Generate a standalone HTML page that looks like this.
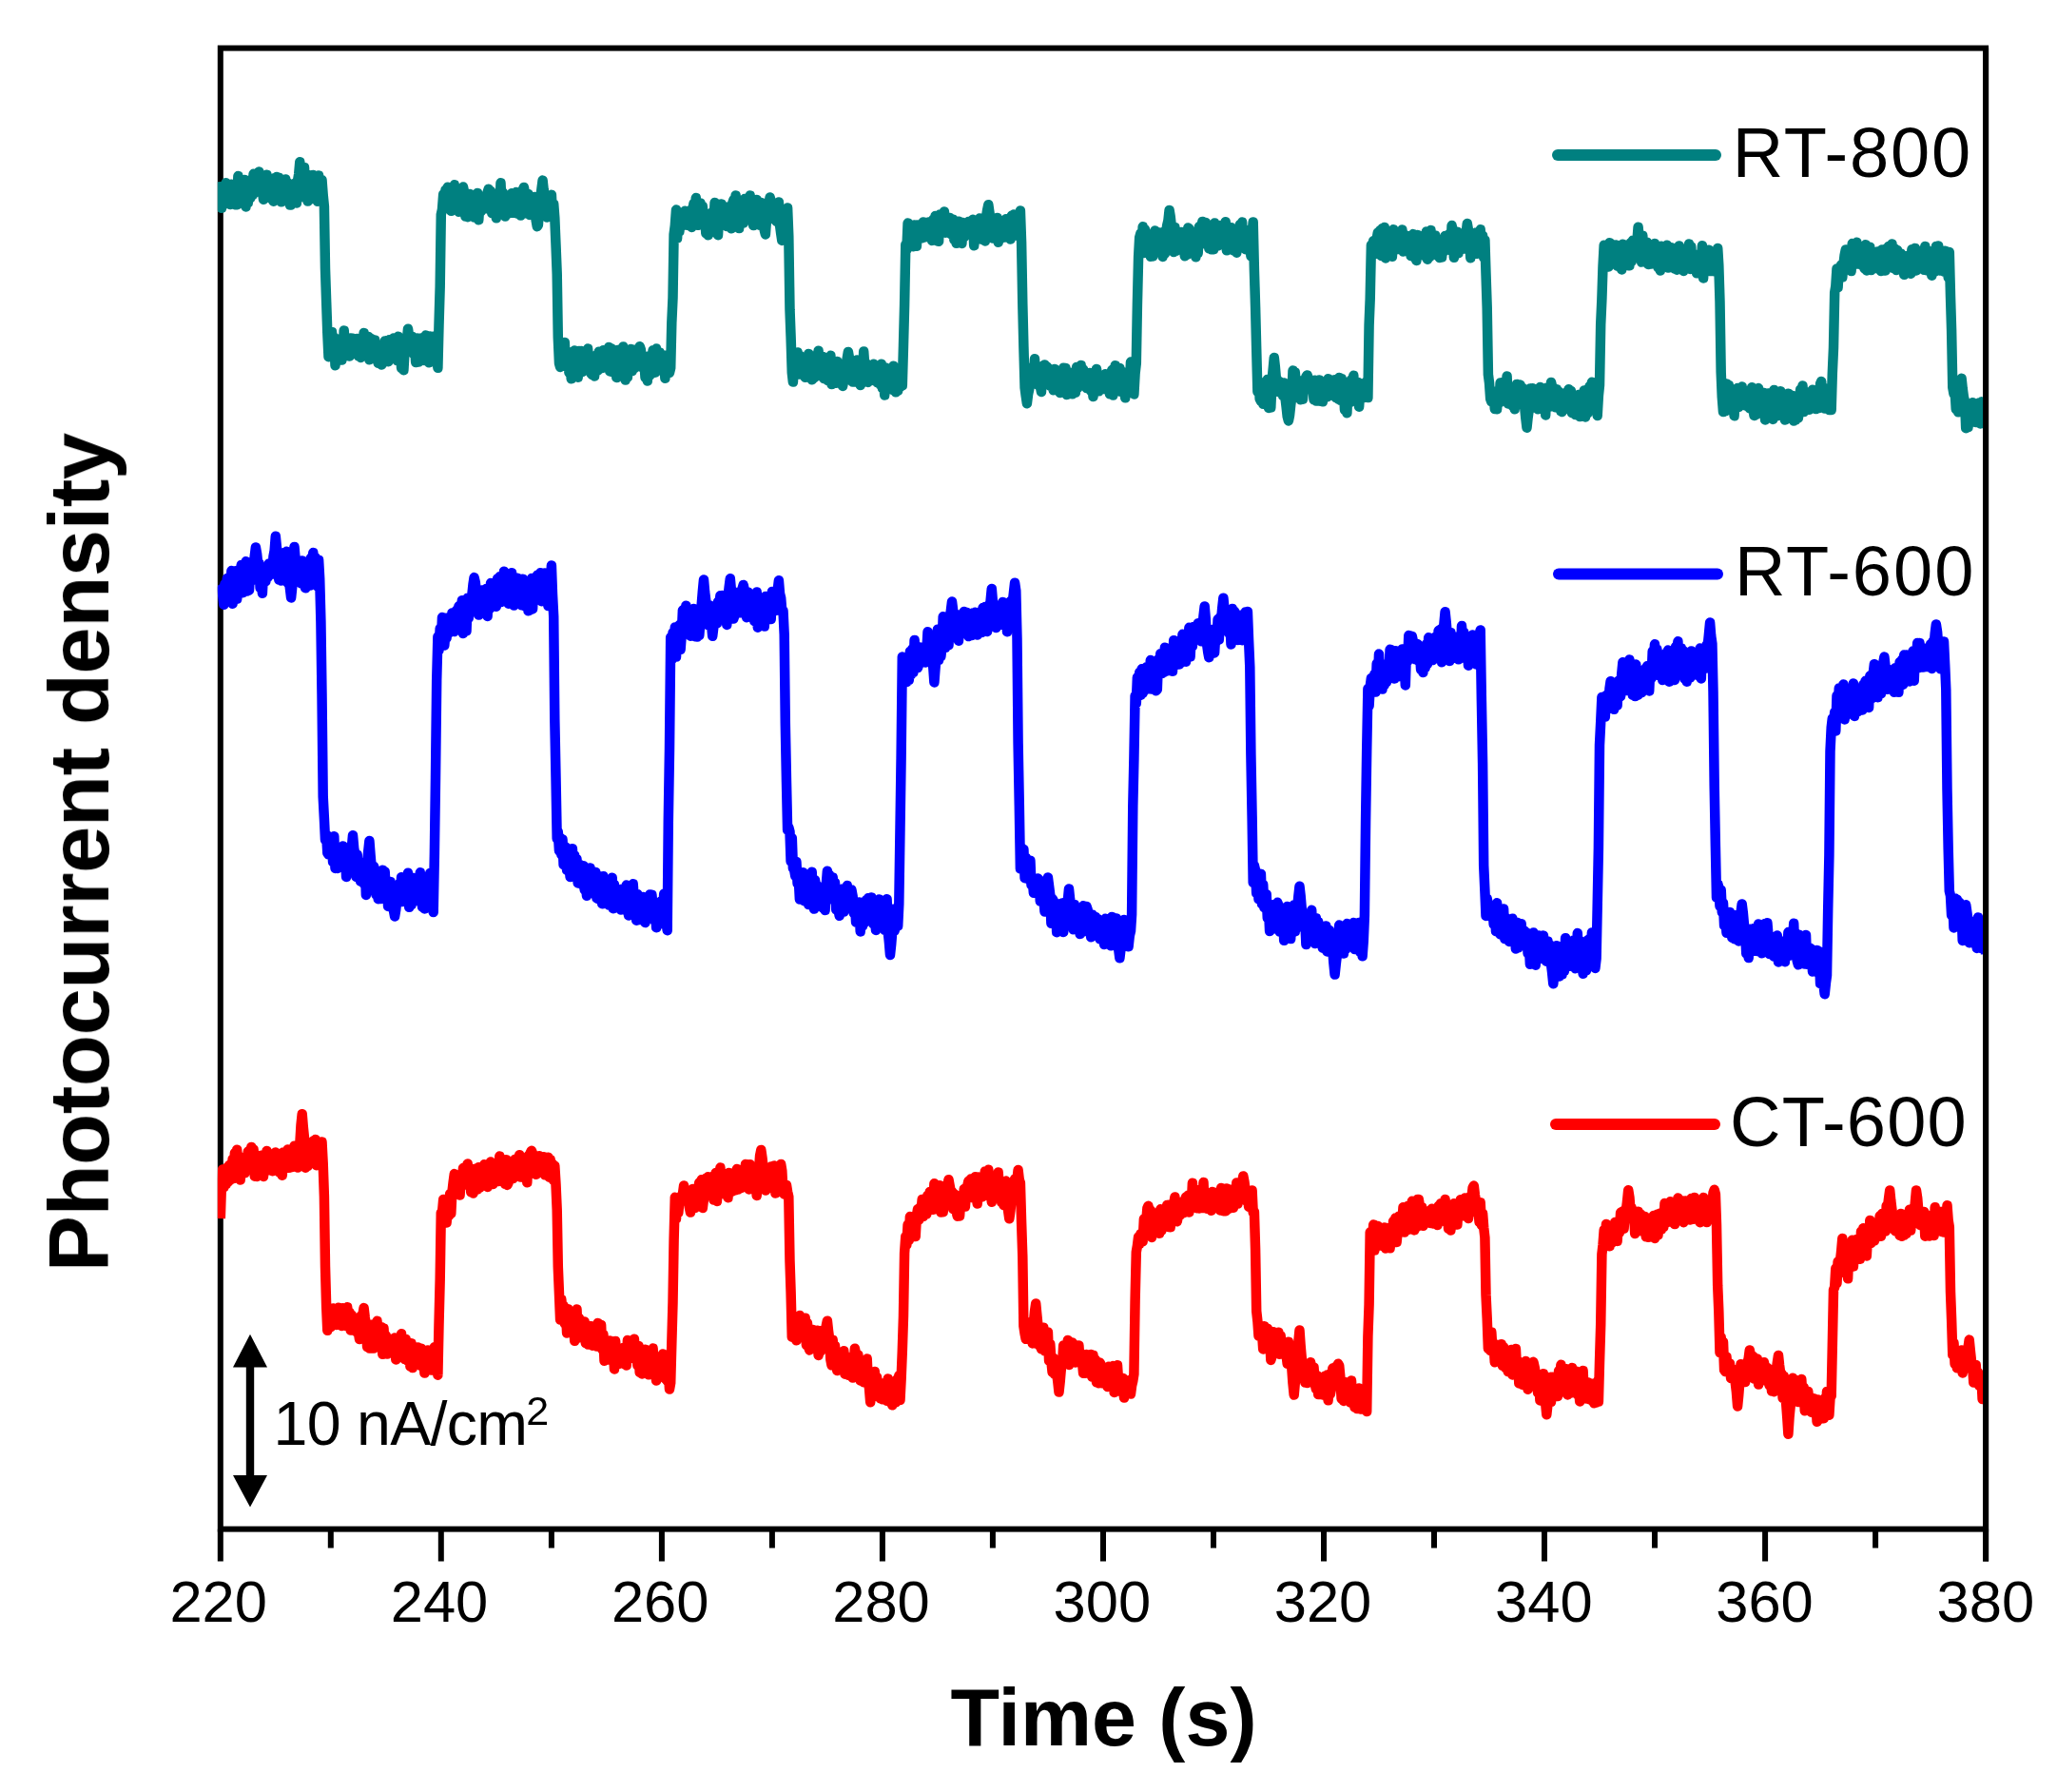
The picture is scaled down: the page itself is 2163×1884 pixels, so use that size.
<!DOCTYPE html>
<html lang="en"><head><meta charset="utf-8"><title>Photocurrent density vs Time</title>
<style>
html,body{margin:0;padding:0;background:#fff;}
body{width:2163px;height:1884px;overflow:hidden;}
svg{display:block;}
text{font-family:"Liberation Sans",Arial,Helvetica,sans-serif;fill:#000;}
.tr{fill:none;stroke-width:10.5;stroke-linejoin:round;stroke-linecap:butt;}
</style></head><body>
<svg width="2163" height="1884" viewBox="0 0 2163 1884">
<defs><filter id="soft" x="0" y="0" width="2163" height="1884" filterUnits="userSpaceOnUse"><feGaussianBlur stdDeviation="0.7"/></filter></defs>
<rect width="2163" height="1884" fill="#fff"/>
<g filter="url(#soft)">
<g stroke="#000" stroke-width="6" fill="none" stroke-linecap="butt">
<rect x="231.8" y="50.6" width="1856.3" height="1557.0"/>
<line x1="231.8" y1="1607.6" x2="231.8" y2="1641.5"/><line x1="347.8" y1="1607.6" x2="347.8" y2="1627.5"/><line x1="463.8" y1="1607.6" x2="463.8" y2="1641.5"/><line x1="579.9" y1="1607.6" x2="579.9" y2="1627.5"/><line x1="695.9" y1="1607.6" x2="695.9" y2="1641.5"/><line x1="811.9" y1="1607.6" x2="811.9" y2="1627.5"/><line x1="927.9" y1="1607.6" x2="927.9" y2="1641.5"/><line x1="1043.9" y1="1607.6" x2="1043.9" y2="1627.5"/><line x1="1160.0" y1="1607.6" x2="1160.0" y2="1641.5"/><line x1="1276.0" y1="1607.6" x2="1276.0" y2="1627.5"/><line x1="1392.0" y1="1607.6" x2="1392.0" y2="1641.5"/><line x1="1508.0" y1="1607.6" x2="1508.0" y2="1627.5"/><line x1="1624.0" y1="1607.6" x2="1624.0" y2="1641.5"/><line x1="1740.0" y1="1607.6" x2="1740.0" y2="1627.5"/><line x1="1856.1" y1="1607.6" x2="1856.1" y2="1641.5"/><line x1="1972.1" y1="1607.6" x2="1972.1" y2="1627.5"/><line x1="2088.1" y1="1607.6" x2="2088.1" y2="1641.5"/>
</g>
<clipPath id="cp"><rect x="228.8" y="50.6" width="1859.8" height="1557.0"/></clipPath>
<g clip-path="url(#cp)">
<path class="tr" stroke="#008080" d="M231.8,191.0 L233.0,218.8 L234.1,197.3 L235.3,197.1 L236.4,214.4 L237.6,192.2 L238.8,193.6 L239.9,210.3 L241.1,200.1 L242.2,215.0 L243.4,193.7 L244.6,212.1 L245.7,193.9 L246.9,215.2 L248.0,199.2 L249.2,215.3 L250.4,185.0 L251.5,203.0 L252.7,192.4 L253.8,212.9 L255.0,194.9 L256.2,209.0 L257.3,188.9 L258.5,217.4 L259.6,191.6 L260.8,213.2 L262.0,192.6 L263.1,208.3 L264.3,188.7 L265.4,205.2 L266.6,182.8 L267.8,202.7 L268.9,184.4 L270.1,197.8 L271.2,185.2 L272.4,180.6 L273.6,188.5 L274.7,191.3 L275.9,199.4 L277.0,209.7 L278.2,189.7 L279.4,206.0 L280.5,183.7 L281.7,206.4 L282.8,196.8 L284.0,208.1 L285.2,194.1 L286.3,190.6 L287.5,211.7 L288.6,187.2 L289.8,209.7 L291.0,186.0 L292.1,202.2 L293.3,186.7 L294.5,196.5 L295.6,212.3 L296.8,193.7 L297.9,206.8 L299.1,197.0 L300.3,188.4 L301.4,203.9 L302.6,192.1 L303.7,209.6 L304.9,215.5 L306.1,215.5 L307.2,212.0 L308.4,193.8 L309.5,208.1 L310.7,192.3 L311.9,213.4 L313.0,190.2 L314.2,183.0 L315.3,170.2 L316.5,181.6 L317.7,190.7 L318.8,207.1 L320.0,176.1 L321.1,200.2 L322.3,186.2 L323.5,211.6 L324.6,183.9 L325.8,206.0 L326.9,187.3 L328.1,202.1 L329.3,184.0 L330.4,209.3 L331.6,190.2 L332.7,191.1 L333.9,211.8 L335.1,184.6 L336.2,209.9 L337.4,189.8 L338.5,189.1 L339.7,204.8 L340.9,217.1 L342.0,282.6 L343.2,318.3 L344.3,349.8 L345.5,375.2 L346.7,359.3 L347.8,370.2 L349.0,349.1 L350.1,365.9 L351.3,354.8 L352.5,384.3 L353.6,356.4 L354.8,373.0 L355.9,358.7 L357.1,369.6 L358.3,357.3 L359.4,378.6 L360.6,374.0 L361.7,347.4 L362.9,369.1 L364.1,360.4 L365.2,370.9 L366.4,358.0 L367.5,374.5 L368.7,355.4 L369.9,370.0 L371.0,355.7 L372.2,364.9 L373.3,357.4 L374.5,371.9 L375.7,356.0 L376.8,374.2 L378.0,359.4 L379.1,375.9 L380.3,357.6 L381.5,371.2 L382.6,350.0 L383.8,365.4 L384.9,355.2 L386.1,367.1 L387.3,354.0 L388.4,378.3 L389.6,355.7 L390.7,372.9 L391.9,361.5 L393.1,376.9 L394.2,357.6 L395.4,374.9 L396.5,363.0 L397.7,381.8 L398.9,363.7 L400.0,365.5 L401.2,383.5 L402.3,366.6 L403.5,380.9 L404.7,358.5 L405.8,369.3 L407.0,358.0 L408.1,380.2 L409.3,357.3 L410.5,374.9 L411.6,361.2 L412.8,374.4 L413.9,355.5 L415.1,375.4 L416.3,361.9 L417.4,379.0 L418.6,353.8 L419.8,372.8 L420.9,364.9 L422.1,387.0 L423.2,363.7 L424.4,389.2 L425.6,368.2 L426.7,365.6 L427.9,357.2 L429.0,345.7 L430.2,353.9 L431.4,364.7 L432.5,368.9 L433.7,354.1 L434.8,372.1 L436.0,363.3 L437.2,381.0 L438.3,367.0 L439.5,355.6 L440.6,380.4 L441.8,379.1 L443.0,355.5 L444.1,375.2 L445.3,362.7 L446.4,379.1 L447.6,352.6 L448.8,372.7 L449.9,360.9 L451.1,381.3 L452.2,353.4 L453.4,374.0 L454.6,356.8 L455.7,372.1 L456.9,353.5 L458.0,379.7 L459.2,367.4 L460.4,386.8 L461.5,342.2 L462.7,301.1 L463.8,225.5 L465.0,220.0 L466.2,204.2 L467.3,216.6 L468.5,199.6 L469.6,218.0 L470.8,196.7 L472.0,215.3 L473.1,204.4 L474.3,221.8 L475.4,207.2 L476.6,217.0 L477.8,194.3 L478.9,214.5 L480.1,209.3 L481.2,205.3 L482.4,222.7 L483.6,202.9 L484.7,198.2 L485.9,221.6 L487.0,196.5 L488.2,202.4 L489.4,227.6 L490.5,205.4 L491.7,228.2 L492.8,218.9 L494.0,204.1 L495.2,216.7 L496.3,208.3 L497.5,214.2 L498.6,228.5 L499.8,213.9 L501.0,228.2 L502.1,202.9 L503.3,231.3 L504.4,212.9 L505.6,222.3 L506.8,208.1 L507.9,219.5 L509.1,217.9 L510.2,205.9 L511.4,219.3 L512.6,202.3 L513.7,198.7 L514.9,219.8 L516.0,201.0 L517.2,224.0 L518.4,208.5 L519.5,224.6 L520.7,207.4 L521.8,229.3 L523.0,214.6 L524.2,203.4 L525.3,223.4 L526.5,192.3 L527.6,217.8 L528.8,202.6 L530.0,210.7 L531.1,227.5 L532.3,218.5 L533.4,206.1 L534.6,224.5 L535.8,211.6 L536.9,219.3 L538.1,203.3 L539.2,223.8 L540.4,209.2 L541.6,219.8 L542.7,202.1 L543.9,224.6 L545.1,212.4 L546.2,207.1 L547.4,226.6 L548.5,211.6 L549.7,199.6 L550.9,196.9 L552.0,203.5 L553.2,207.7 L554.3,224.6 L555.5,204.1 L556.7,225.9 L557.8,213.0 L559.0,225.2 L560.1,207.8 L561.3,223.3 L562.5,207.0 L563.6,231.3 L564.8,238.2 L565.9,236.4 L567.1,217.0 L568.3,208.8 L569.4,199.0 L570.6,189.6 L571.7,199.7 L572.9,206.9 L574.1,212.5 L575.2,228.5 L576.4,211.3 L577.5,227.0 L578.7,210.4 L579.9,204.8 L581.0,228.0 L582.2,214.4 L583.3,228.9 L584.5,257.4 L585.7,287.6 L586.8,354.8 L588.0,381.8 L589.1,386.0 L590.3,368.0 L591.5,382.2 L592.6,380.6 L593.8,360.0 L594.9,385.1 L596.1,385.0 L597.3,375.2 L598.4,391.7 L599.6,376.1 L600.7,398.3 L601.9,370.0 L603.1,386.4 L604.2,368.4 L605.4,391.0 L606.5,372.8 L607.7,396.7 L608.9,369.1 L610.0,389.2 L611.2,369.1 L612.3,390.9 L613.5,376.3 L614.7,380.0 L615.8,369.6 L617.0,389.2 L618.1,366.6 L619.3,385.4 L620.5,373.9 L621.6,393.0 L622.8,394.1 L623.9,376.0 L625.1,395.5 L626.3,373.9 L627.4,382.5 L628.6,389.5 L629.7,369.7 L630.9,386.8 L632.1,370.6 L633.2,387.0 L634.4,368.2 L635.5,370.5 L636.7,380.5 L637.9,374.5 L639.0,386.3 L640.2,364.9 L641.3,390.4 L642.5,366.3 L643.7,391.1 L644.8,373.6 L646.0,387.8 L647.1,369.0 L648.3,397.0 L649.5,367.9 L650.6,374.8 L651.8,390.0 L652.9,370.0 L654.1,386.1 L655.3,364.5 L656.4,372.8 L657.6,399.6 L658.7,379.3 L659.9,396.5 L661.1,368.5 L662.2,384.4 L663.4,366.9 L664.5,390.1 L665.7,370.4 L666.9,387.2 L668.0,367.5 L669.2,385.8 L670.4,374.4 L671.5,370.0 L672.7,364.2 L673.8,367.5 L675.0,377.3 L676.2,387.0 L677.3,379.2 L678.5,397.0 L679.6,378.9 L680.8,400.5 L682.0,374.4 L683.1,394.6 L684.3,375.6 L685.4,381.8 L686.6,368.2 L687.8,385.5 L688.9,391.7 L690.1,366.6 L691.2,371.5 L692.4,387.1 L693.6,370.6 L694.7,384.4 L695.9,381.9 L697.0,390.7 L698.2,380.1 L699.4,397.8 L700.5,373.4 L701.7,391.5 L702.8,380.1 L704.0,391.9 L705.2,386.8 L706.3,339.7 L707.5,313.3 L708.6,246.4 L709.8,237.2 L711.0,220.6 L712.1,250.4 L713.3,224.9 L714.4,243.3 L715.6,226.4 L716.8,237.8 L717.9,224.1 L719.1,232.8 L720.2,221.7 L721.4,223.1 L722.6,236.8 L723.7,222.1 L724.9,235.4 L726.0,221.1 L727.2,238.9 L728.4,219.9 L729.5,213.9 L730.7,229.2 L731.8,208.1 L733.0,230.7 L734.2,236.8 L735.3,234.9 L736.5,213.6 L737.6,235.1 L738.8,217.0 L740.0,234.3 L741.1,223.9 L742.3,245.3 L743.4,228.8 L744.6,247.3 L745.8,226.8 L746.9,244.1 L748.1,223.7 L749.2,235.6 L750.4,235.1 L751.6,212.9 L752.7,239.4 L753.9,226.9 L755.0,247.2 L756.2,226.1 L757.4,236.2 L758.5,214.4 L759.7,235.2 L760.8,221.2 L762.0,235.2 L763.2,219.4 L764.3,238.1 L765.5,217.4 L766.6,232.1 L767.8,220.4 L769.0,240.2 L770.1,214.0 L771.3,210.3 L772.4,223.2 L773.6,205.5 L774.8,221.7 L775.9,213.9 L777.1,240.1 L778.2,219.7 L779.4,229.3 L780.6,216.3 L781.7,234.5 L782.9,209.1 L784.0,227.7 L785.2,228.2 L786.4,213.3 L787.5,231.1 L788.7,205.5 L789.9,228.9 L791.0,218.9 L792.2,237.1 L793.3,222.5 L794.5,232.6 L795.7,210.0 L796.8,233.6 L798.0,212.5 L799.1,236.8 L800.3,212.9 L801.5,232.2 L802.6,219.2 L803.8,242.2 L804.9,246.4 L806.1,229.6 L807.3,223.0 L808.4,215.0 L809.6,207.5 L810.7,211.5 L811.9,218.0 L813.1,224.3 L814.2,230.7 L815.4,214.3 L816.5,232.9 L817.7,229.7 L818.9,212.4 L820.0,236.3 L821.2,245.5 L822.3,252.9 L823.5,244.1 L824.7,235.7 L825.8,223.6 L827.0,231.4 L828.1,218.4 L829.3,248.0 L830.5,325.3 L831.6,354.2 L832.8,391.8 L833.9,401.6 L835.1,382.0 L836.3,393.7 L837.4,376.6 L838.6,370.5 L839.7,393.5 L840.9,374.0 L842.1,393.6 L843.2,379.2 L844.4,393.6 L845.5,380.0 L846.7,396.8 L847.9,382.2 L849.0,393.7 L850.2,372.0 L851.3,388.9 L852.5,380.1 L853.7,399.2 L854.8,378.5 L856.0,397.1 L857.1,382.8 L858.3,373.5 L859.5,383.4 L860.6,368.8 L861.8,395.1 L862.9,381.3 L864.1,394.5 L865.3,375.1 L866.4,398.0 L867.6,377.5 L868.7,396.4 L869.9,399.7 L871.1,380.8 L872.2,395.7 L873.4,373.8 L874.5,404.1 L875.7,397.3 L876.9,384.2 L878.0,387.7 L879.2,402.7 L880.3,380.1 L881.5,402.3 L882.7,384.9 L883.8,403.0 L885.0,386.6 L886.1,405.9 L887.3,399.9 L888.5,393.5 L889.6,383.8 L890.8,376.3 L891.9,369.9 L893.1,376.9 L894.3,386.9 L895.4,400.4 L896.6,401.6 L897.7,381.6 L898.9,401.6 L900.1,400.2 L901.2,378.5 L902.4,399.2 L903.5,386.5 L904.7,405.0 L905.9,384.7 L907.0,402.2 L908.2,369.4 L909.3,385.2 L910.5,381.7 L911.7,399.5 L912.8,401.9 L914.0,388.5 L915.2,398.0 L916.3,386.2 L917.5,394.1 L918.6,382.7 L919.8,400.2 L921.0,389.1 L922.1,402.0 L923.3,394.4 L924.4,401.5 L925.6,404.4 L926.8,382.7 L927.9,408.3 L929.1,394.2 L930.2,415.6 L931.4,386.6 L932.6,388.8 L933.7,388.8 L934.9,401.2 L936.0,389.0 L937.2,399.3 L938.4,409.9 L939.5,384.7 L940.7,393.2 L941.8,412.3 L943.0,395.4 L944.2,410.8 L945.3,389.0 L946.5,406.7 L947.6,395.5 L948.8,405.3 L950.0,363.1 L951.1,321.0 L952.3,257.1 L953.4,262.4 L954.6,234.5 L955.8,253.0 L956.9,238.1 L958.1,253.9 L959.2,237.6 L960.4,259.3 L961.6,236.5 L962.7,248.8 L963.9,258.7 L965.0,236.4 L966.2,247.8 L967.4,239.4 L968.5,237.8 L969.7,250.2 L970.8,233.4 L972.0,233.8 L973.2,249.2 L974.3,234.6 L975.5,246.5 L976.6,233.6 L977.8,246.8 L979.0,241.7 L980.1,252.9 L981.3,230.7 L982.4,246.2 L983.6,226.9 L984.8,234.9 L985.9,253.4 L987.1,253.8 L988.2,225.6 L989.4,229.7 L990.6,239.1 L991.7,240.0 L992.9,222.5 L994.0,244.7 L995.2,228.4 L996.4,231.4 L997.5,241.9 L998.7,228.9 L999.8,246.1 L1001.0,239.2 L1002.2,230.7 L1003.3,252.0 L1004.5,233.1 L1005.6,255.8 L1006.8,239.7 L1008.0,232.7 L1009.1,251.7 L1010.3,235.1 L1011.4,255.9 L1012.6,234.1 L1013.8,249.1 L1014.9,237.2 L1016.1,239.5 L1017.2,246.5 L1018.4,233.0 L1019.6,235.3 L1020.7,246.4 L1021.9,234.6 L1023.0,230.8 L1024.2,258.3 L1025.4,237.7 L1026.5,241.3 L1027.7,251.2 L1028.8,251.7 L1030.0,229.6 L1031.2,234.4 L1032.3,230.0 L1033.5,252.2 L1034.6,229.9 L1035.8,253.4 L1037.0,228.2 L1038.1,221.0 L1039.3,215.2 L1040.5,223.8 L1041.6,232.4 L1042.8,235.7 L1043.9,250.5 L1045.1,233.2 L1046.3,249.1 L1047.4,239.7 L1048.6,228.9 L1049.7,254.8 L1050.9,232.9 L1052.1,250.8 L1053.2,237.5 L1054.4,248.9 L1055.5,235.7 L1056.7,249.4 L1057.9,230.2 L1059.0,231.2 L1060.2,245.7 L1061.3,230.1 L1062.5,251.6 L1063.7,226.8 L1064.8,240.2 L1066.0,225.4 L1067.1,242.5 L1068.3,235.2 L1069.5,247.8 L1070.6,228.0 L1071.8,242.8 L1072.9,221.5 L1074.1,254.7 L1075.3,319.5 L1076.4,364.7 L1077.6,407.5 L1078.7,416.1 L1079.9,424.2 L1081.1,414.4 L1082.2,409.4 L1083.4,389.4 L1084.5,386.4 L1085.7,403.6 L1086.9,396.4 L1088.0,377.2 L1089.2,403.1 L1090.3,388.3 L1091.5,404.8 L1092.7,390.1 L1093.8,405.8 L1095.0,412.0 L1096.1,384.9 L1097.3,396.7 L1098.5,383.4 L1099.6,399.7 L1100.8,385.4 L1101.9,398.1 L1103.1,387.8 L1104.3,405.7 L1105.4,393.9 L1106.6,388.8 L1107.7,410.3 L1108.9,387.9 L1110.1,407.9 L1111.2,394.3 L1112.4,407.2 L1113.5,394.6 L1114.7,413.1 L1115.9,389.6 L1117.0,408.3 L1118.2,386.7 L1119.3,401.3 L1120.5,387.1 L1121.7,415.1 L1122.8,391.3 L1124.0,399.0 L1125.1,409.6 L1126.3,392.1 L1127.5,414.3 L1128.6,401.0 L1129.8,397.6 L1130.9,412.7 L1132.1,386.0 L1133.3,407.7 L1134.4,386.3 L1135.6,404.0 L1136.7,384.0 L1137.9,401.2 L1139.1,388.4 L1140.2,403.8 L1141.4,393.9 L1142.5,407.9 L1143.7,400.8 L1144.9,406.9 L1146.0,391.9 L1147.2,411.1 L1148.3,397.5 L1149.5,417.1 L1150.7,393.1 L1151.8,407.3 L1153.0,387.9 L1154.1,397.4 L1155.3,411.3 L1156.5,395.8 L1157.6,394.7 L1158.8,409.1 L1159.9,399.3 L1161.1,409.1 L1162.3,393.2 L1163.4,406.4 L1164.6,395.3 L1165.8,396.2 L1166.9,414.3 L1168.1,412.2 L1169.2,389.1 L1170.4,415.6 L1171.6,408.7 L1172.7,384.2 L1173.9,410.4 L1175.0,391.3 L1176.2,407.2 L1177.4,387.0 L1178.5,411.8 L1179.7,390.4 L1180.8,412.6 L1182.0,397.2 L1183.2,418.3 L1184.3,401.9 L1185.5,409.3 L1186.6,393.6 L1187.8,405.6 L1189.0,380.6 L1190.1,407.3 L1191.3,384.5 L1192.4,414.5 L1193.6,392.6 L1194.8,381.9 L1195.9,320.6 L1197.1,270.4 L1198.2,249.6 L1199.4,245.3 L1200.6,260.8 L1201.7,238.3 L1202.9,266.0 L1204.0,241.6 L1205.2,265.8 L1206.4,245.8 L1207.5,265.7 L1208.7,255.3 L1209.8,269.7 L1211.0,246.3 L1212.2,269.5 L1213.3,259.3 L1214.5,242.5 L1215.6,259.0 L1216.8,243.9 L1218.0,260.0 L1219.1,248.0 L1220.3,244.9 L1221.4,244.5 L1222.6,269.9 L1223.8,252.6 L1224.9,266.4 L1226.1,244.1 L1227.2,237.1 L1228.4,232.1 L1229.6,220.9 L1230.7,227.5 L1231.9,238.6 L1233.0,247.9 L1234.2,265.1 L1235.4,239.1 L1236.5,263.8 L1237.7,250.4 L1238.8,258.9 L1240.0,244.5 L1241.2,256.1 L1242.3,243.9 L1243.5,259.6 L1244.6,252.8 L1245.8,269.2 L1247.0,248.5 L1248.1,267.7 L1249.3,239.4 L1250.4,240.2 L1251.6,258.1 L1252.8,246.3 L1253.9,260.6 L1255.1,244.5 L1256.2,261.1 L1257.4,270.3 L1258.6,245.9 L1259.7,266.1 L1260.9,238.3 L1262.0,257.3 L1263.2,239.9 L1264.4,232.9 L1265.5,254.8 L1266.7,249.4 L1267.8,234.1 L1269.0,251.7 L1270.2,239.5 L1271.3,261.3 L1272.5,245.7 L1273.6,262.2 L1274.8,240.9 L1276.0,262.3 L1277.1,234.6 L1278.3,249.6 L1279.4,238.0 L1280.6,258.5 L1281.8,239.8 L1282.9,237.1 L1284.1,246.1 L1285.3,251.8 L1286.4,242.1 L1287.6,250.4 L1288.7,233.2 L1289.9,263.3 L1291.1,248.6 L1292.2,261.9 L1293.4,257.1 L1294.5,239.2 L1295.7,243.9 L1296.9,263.4 L1298.0,253.3 L1299.2,246.3 L1300.3,265.7 L1301.5,246.7 L1302.7,260.1 L1303.8,236.2 L1305.0,254.3 L1306.1,233.6 L1307.3,255.7 L1308.5,241.2 L1309.6,262.2 L1310.8,243.5 L1311.9,253.7 L1313.1,243.9 L1314.3,250.6 L1315.4,269.3 L1316.6,245.5 L1317.7,233.4 L1318.9,283.8 L1320.1,323.1 L1321.2,367.2 L1322.4,411.9 L1323.5,400.7 L1324.7,419.3 L1325.9,421.9 L1327.0,404.5 L1328.2,424.8 L1329.3,404.0 L1330.5,413.9 L1331.7,401.8 L1332.8,398.9 L1334.0,428.9 L1335.1,406.9 L1336.3,428.4 L1337.5,401.3 L1338.6,389.0 L1339.8,376.1 L1340.9,386.1 L1342.1,400.4 L1343.3,399.2 L1344.4,412.1 L1345.6,401.2 L1346.7,403.9 L1347.9,405.1 L1349.1,416.1 L1350.2,402.6 L1351.4,417.6 L1352.5,427.0 L1353.7,438.0 L1354.9,442.5 L1356.0,437.0 L1357.2,425.9 L1358.3,417.6 L1359.5,389.6 L1360.7,412.1 L1361.8,391.6 L1363.0,409.8 L1364.1,402.2 L1365.3,414.4 L1366.5,401.8 L1367.6,420.3 L1368.8,400.3 L1369.9,419.8 L1371.1,407.6 L1372.3,406.2 L1373.4,396.1 L1374.6,394.4 L1375.7,397.4 L1376.9,405.9 L1378.1,401.0 L1379.2,402.1 L1380.4,404.5 L1381.5,420.2 L1382.7,399.8 L1383.9,421.6 L1385.0,405.4 L1386.2,421.6 L1387.3,399.5 L1388.5,421.8 L1389.7,408.2 L1390.8,422.3 L1392.0,404.5 L1393.1,413.7 L1394.3,407.0 L1395.5,417.3 L1396.6,398.2 L1397.8,416.0 L1398.9,403.8 L1400.1,411.8 L1401.3,401.6 L1402.4,413.8 L1403.6,399.3 L1404.7,418.1 L1405.9,402.7 L1407.1,419.6 L1408.2,397.0 L1409.4,420.8 L1410.6,397.9 L1411.7,413.5 L1412.9,408.5 L1414.0,431.1 L1415.2,405.3 L1416.4,434.3 L1417.5,403.0 L1418.7,401.2 L1419.8,423.1 L1421.0,399.2 L1422.2,416.6 L1423.3,394.8 L1424.5,419.7 L1425.6,403.5 L1426.8,421.5 L1428.0,401.9 L1429.1,427.7 L1430.3,408.5 L1431.4,416.0 L1432.6,405.4 L1433.8,418.1 L1434.9,402.7 L1436.1,416.1 L1437.2,400.6 L1438.4,418.1 L1439.6,341.7 L1440.7,314.2 L1441.9,257.6 L1443.0,267.7 L1444.2,253.2 L1445.4,267.3 L1446.5,264.8 L1447.7,251.1 L1448.8,244.5 L1450.0,260.1 L1451.2,242.2 L1452.3,268.9 L1453.5,240.2 L1454.6,258.4 L1455.8,238.9 L1457.0,271.5 L1458.1,269.4 L1459.3,256.6 L1460.4,266.2 L1461.6,247.8 L1462.8,262.9 L1463.9,269.8 L1465.1,241.3 L1466.2,259.3 L1467.4,247.0 L1468.6,262.3 L1469.7,244.3 L1470.9,260.8 L1472.0,246.0 L1473.2,261.6 L1474.4,241.5 L1475.5,264.6 L1476.7,263.0 L1477.8,250.8 L1479.0,263.3 L1480.2,248.0 L1481.3,261.9 L1482.5,251.3 L1483.6,269.1 L1484.8,256.7 L1486.0,246.1 L1487.1,270.5 L1488.3,247.8 L1489.4,274.0 L1490.6,247.0 L1491.8,267.7 L1492.9,253.0 L1494.1,267.6 L1495.2,252.9 L1496.4,267.8 L1497.6,251.4 L1498.7,269.5 L1499.9,243.5 L1501.0,272.7 L1502.2,253.0 L1503.4,270.0 L1504.5,242.1 L1505.7,260.1 L1506.8,252.9 L1508.0,264.1 L1509.2,247.5 L1510.3,260.7 L1511.5,268.7 L1512.6,253.5 L1513.8,271.1 L1515.0,258.5 L1516.1,270.6 L1517.3,255.2 L1518.4,264.3 L1519.6,248.0 L1520.8,261.8 L1521.9,249.4 L1523.1,260.9 L1524.2,245.8 L1525.4,263.3 L1526.6,237.1 L1527.7,243.0 L1528.9,270.8 L1530.0,253.1 L1531.2,267.2 L1532.4,243.7 L1533.5,266.2 L1534.7,250.3 L1535.9,262.6 L1537.0,249.3 L1538.2,261.4 L1539.3,261.5 L1540.5,250.7 L1541.7,244.6 L1542.8,235.0 L1544.0,242.0 L1545.1,251.4 L1546.3,271.2 L1547.5,256.1 L1548.6,259.1 L1549.8,265.6 L1550.9,265.3 L1552.1,244.5 L1553.3,266.8 L1554.4,247.3 L1555.6,262.7 L1556.7,241.3 L1557.9,267.0 L1559.1,247.7 L1560.2,270.8 L1561.4,252.4 L1562.5,287.7 L1563.7,323.5 L1564.9,393.8 L1566.0,402.2 L1567.2,419.4 L1568.3,422.3 L1569.5,421.9 L1570.7,412.8 L1571.8,430.0 L1573.0,415.0 L1574.1,430.3 L1575.3,410.4 L1576.5,423.4 L1577.6,402.4 L1578.8,418.1 L1579.9,402.0 L1581.1,419.1 L1582.3,408.0 L1583.4,417.8 L1584.6,395.4 L1585.7,424.4 L1586.9,410.2 L1588.1,422.0 L1589.2,411.1 L1590.4,426.7 L1591.5,410.8 L1592.7,430.2 L1593.9,408.1 L1595.0,403.9 L1596.2,424.8 L1597.3,409.5 L1598.5,404.5 L1599.7,423.5 L1600.8,407.8 L1602.0,425.9 L1603.1,427.1 L1604.3,439.4 L1605.5,449.7 L1606.6,439.2 L1607.8,430.4 L1608.9,408.5 L1610.1,429.2 L1611.3,408.2 L1612.4,412.4 L1613.6,409.0 L1614.7,428.5 L1615.9,417.3 L1617.1,430.3 L1618.2,417.7 L1619.4,407.0 L1620.5,427.0 L1621.7,429.6 L1622.9,414.1 L1624.0,415.4 L1625.2,436.4 L1626.3,407.7 L1627.5,425.7 L1628.7,412.5 L1629.8,427.4 L1631.0,401.9 L1632.1,406.2 L1633.3,423.4 L1634.5,413.9 L1635.6,428.3 L1636.8,409.3 L1637.9,422.4 L1639.1,411.8 L1640.3,427.9 L1641.4,432.4 L1642.6,433.0 L1643.7,415.8 L1644.9,430.5 L1646.1,415.8 L1647.2,412.3 L1648.4,420.8 L1649.5,409.2 L1650.7,427.2 L1651.9,411.1 L1653.0,434.2 L1654.2,427.2 L1655.4,418.9 L1656.5,436.1 L1657.7,422.7 L1658.8,434.0 L1660.0,415.1 L1661.2,438.1 L1662.3,419.0 L1663.5,419.4 L1664.6,429.0 L1665.8,410.5 L1667.0,438.5 L1668.1,422.2 L1669.3,434.5 L1670.4,413.3 L1671.6,405.9 L1672.8,423.8 L1673.9,401.8 L1675.1,428.9 L1676.2,414.8 L1677.4,418.1 L1678.6,426.6 L1679.7,437.0 L1680.9,415.9 L1682.0,404.9 L1683.2,341.0 L1684.4,314.3 L1685.5,280.4 L1686.7,257.7 L1687.8,260.3 L1689.0,278.7 L1690.2,263.3 L1691.3,280.6 L1692.5,255.2 L1693.6,275.8 L1694.8,259.8 L1696.0,275.0 L1697.1,257.5 L1698.3,275.7 L1699.4,257.5 L1700.6,279.7 L1701.8,264.8 L1702.9,276.1 L1704.1,267.6 L1705.2,283.4 L1706.4,256.7 L1707.6,274.6 L1708.7,274.9 L1709.9,267.6 L1711.0,278.9 L1712.2,267.8 L1713.4,279.3 L1714.5,255.5 L1715.7,274.7 L1716.8,252.8 L1718.0,271.7 L1719.2,253.9 L1720.3,260.6 L1721.5,252.6 L1722.6,238.7 L1723.8,251.6 L1725.0,263.3 L1726.1,275.6 L1727.3,247.7 L1728.4,270.8 L1729.6,264.4 L1730.8,274.4 L1731.9,254.8 L1733.1,277.9 L1734.2,270.1 L1735.4,258.3 L1736.6,277.5 L1737.7,259.9 L1738.9,260.6 L1740.0,256.0 L1741.2,269.5 L1742.4,263.2 L1743.5,281.2 L1744.7,270.3 L1745.8,284.4 L1747.0,258.7 L1748.2,280.8 L1749.3,263.2 L1750.5,263.3 L1751.6,272.7 L1752.8,257.7 L1754.0,281.6 L1755.1,266.8 L1756.3,274.6 L1757.4,260.3 L1758.6,275.8 L1759.8,263.6 L1760.9,282.6 L1762.1,273.9 L1763.2,283.7 L1764.4,266.8 L1765.6,258.4 L1766.7,280.5 L1767.9,266.3 L1769.0,264.9 L1770.2,284.9 L1771.4,262.6 L1772.5,276.6 L1773.7,265.5 L1774.8,281.3 L1776.0,256.5 L1777.2,282.9 L1778.3,259.5 L1779.5,281.8 L1780.7,280.8 L1781.8,267.7 L1783.0,267.7 L1784.1,287.3 L1785.3,269.7 L1786.5,268.4 L1787.6,276.2 L1788.8,279.5 L1789.9,258.2 L1791.1,292.4 L1792.3,267.3 L1793.4,286.0 L1794.6,265.2 L1795.7,282.0 L1796.9,262.8 L1798.1,285.1 L1799.2,265.3 L1800.4,279.4 L1801.5,264.7 L1802.7,285.3 L1803.9,266.9 L1805.0,276.0 L1806.2,260.9 L1807.3,278.6 L1808.5,316.9 L1809.7,391.6 L1810.8,417.7 L1812.0,433.1 L1813.1,417.8 L1814.3,432.2 L1815.5,403.4 L1816.6,425.5 L1817.8,404.9 L1818.9,421.7 L1820.1,414.1 L1821.3,431.2 L1822.4,415.1 L1823.6,437.2 L1824.7,409.2 L1825.9,426.7 L1827.1,408.0 L1828.2,428.1 L1829.4,415.8 L1830.5,423.0 L1831.7,406.6 L1832.9,424.1 L1834.0,415.8 L1835.2,426.5 L1836.3,411.3 L1837.5,424.8 L1838.7,413.6 L1839.8,429.4 L1841.0,417.9 L1842.1,407.2 L1843.3,425.9 L1844.5,437.0 L1845.6,422.1 L1846.8,435.7 L1847.9,410.3 L1849.1,408.1 L1850.3,424.5 L1851.4,428.5 L1852.6,416.9 L1853.7,435.7 L1854.9,412.9 L1856.1,441.5 L1857.2,421.5 L1858.4,439.1 L1859.5,413.6 L1860.7,430.2 L1861.9,416.8 L1863.0,431.9 L1864.2,440.9 L1865.3,410.0 L1866.5,431.3 L1867.7,413.7 L1868.8,437.2 L1870.0,412.5 L1871.1,417.8 L1872.3,411.3 L1873.5,431.7 L1874.6,437.3 L1875.8,419.1 L1876.9,441.6 L1878.1,414.9 L1879.3,436.9 L1880.4,413.7 L1881.6,435.9 L1882.7,424.7 L1883.9,440.5 L1885.1,416.1 L1886.2,442.6 L1887.4,440.5 L1888.5,441.3 L1889.7,418.1 L1890.9,439.3 L1892.0,429.5 L1893.2,409.4 L1894.3,429.3 L1895.5,405.5 L1896.7,433.1 L1897.8,429.7 L1899.0,416.0 L1900.1,425.9 L1901.3,413.7 L1902.5,430.7 L1903.6,412.0 L1904.8,427.1 L1906.0,409.7 L1907.1,422.8 L1908.3,414.2 L1909.4,430.1 L1910.6,418.9 L1911.8,413.4 L1912.9,429.1 L1914.1,403.4 L1915.2,401.0 L1916.4,426.8 L1917.6,407.6 L1918.7,429.6 L1919.9,425.8 L1921.0,414.1 L1922.2,415.1 L1923.4,431.1 L1924.5,410.6 L1925.7,430.9 L1926.8,392.9 L1928.0,365.8 L1929.2,307.7 L1930.3,300.8 L1931.5,282.4 L1932.6,302.3 L1933.8,281.5 L1935.0,292.2 L1936.1,278.4 L1937.3,291.6 L1938.4,278.3 L1939.6,268.3 L1940.8,262.5 L1941.9,263.4 L1943.1,267.1 L1944.2,279.8 L1945.4,263.2 L1946.6,285.1 L1947.7,256.1 L1948.9,275.8 L1950.0,258.9 L1951.2,276.4 L1952.4,254.8 L1953.5,277.5 L1954.7,259.9 L1955.8,265.3 L1957.0,268.6 L1958.2,279.1 L1959.3,262.1 L1960.5,282.3 L1961.6,257.3 L1962.8,284.4 L1964.0,267.3 L1965.1,280.6 L1966.3,259.8 L1967.4,284.1 L1968.6,269.8 L1969.8,272.9 L1970.9,281.0 L1972.1,266.3 L1973.2,282.1 L1974.4,264.6 L1975.6,281.1 L1976.7,268.2 L1977.9,285.1 L1979.0,262.5 L1980.2,280.5 L1981.4,267.1 L1982.5,284.5 L1983.7,261.2 L1984.8,278.9 L1986.0,259.0 L1987.2,277.2 L1988.3,272.6 L1989.5,256.6 L1990.6,281.9 L1991.8,267.7 L1993.0,262.0 L1994.1,284.0 L1995.3,263.2 L1996.4,266.8 L1997.6,282.3 L1998.8,266.4 L1999.9,284.4 L2001.1,271.2 L2002.2,288.8 L2003.4,269.7 L2004.6,282.1 L2005.7,268.9 L2006.9,284.2 L2008.0,280.6 L2009.2,287.8 L2010.4,262.2 L2011.5,274.2 L2012.7,261.2 L2013.8,260.9 L2015.0,284.4 L2016.2,281.2 L2017.3,263.8 L2018.5,281.1 L2019.6,266.1 L2020.8,274.4 L2022.0,267.0 L2023.1,283.7 L2024.3,259.0 L2025.4,284.2 L2026.6,266.1 L2027.8,263.7 L2028.9,280.9 L2030.1,266.2 L2031.3,289.7 L2032.4,266.8 L2033.6,280.2 L2034.7,285.5 L2035.9,258.9 L2037.1,277.3 L2038.2,258.4 L2039.4,284.4 L2040.5,277.3 L2041.7,284.4 L2042.9,270.5 L2044.0,285.4 L2045.2,263.7 L2046.3,284.4 L2047.5,268.9 L2048.7,291.8 L2049.8,265.0 L2051.0,311.4 L2052.1,347.2 L2053.3,407.3 L2054.5,414.1 L2055.6,410.2 L2056.8,430.2 L2057.9,411.0 L2059.1,433.3 L2060.3,415.5 L2061.4,403.9 L2062.6,397.8 L2063.7,408.2 L2064.9,417.4 L2066.1,422.0 L2067.2,450.2 L2068.4,432.1 L2069.5,449.2 L2070.7,429.8 L2071.9,439.2 L2073.0,433.7 L2074.2,423.3 L2075.3,437.1 L2076.5,424.9 L2077.7,444.1 L2078.8,426.6 L2080.0,440.0 L2081.1,423.4 L2082.3,445.4 L2083.5,422.6 L2084.6,436.0 L2085.8,426.3 L2086.9,445.1 L2088.1,417.6"/>
<path class="tr" stroke="#0000ff" d="M231.8,621.9 L233.0,619.3 L234.1,625.0 L235.3,635.7 L236.4,614.0 L237.6,629.0 L238.8,608.1 L239.9,632.6 L241.1,607.7 L242.2,623.1 L243.4,600.1 L244.6,634.8 L245.7,605.9 L246.9,622.8 L248.0,600.3 L249.2,629.7 L250.4,605.0 L251.5,622.6 L252.7,600.1 L253.8,593.9 L255.0,623.2 L256.2,598.6 L257.3,610.8 L258.5,590.3 L259.6,621.6 L260.8,617.4 L262.0,620.5 L263.1,600.1 L264.3,610.7 L265.4,599.7 L266.6,595.1 L267.8,584.4 L268.9,575.4 L270.1,582.1 L271.2,592.9 L272.4,592.0 L273.6,618.2 L274.7,603.5 L275.9,623.7 L277.0,601.2 L278.2,611.4 L279.4,611.2 L280.5,595.6 L281.7,606.7 L282.8,592.4 L284.0,602.0 L285.2,592.8 L286.3,603.6 L287.5,584.9 L288.6,579.3 L289.8,563.8 L291.0,575.9 L292.1,585.9 L293.3,609.5 L294.5,591.9 L295.6,610.5 L296.8,593.0 L297.9,606.5 L299.1,581.1 L300.3,610.9 L301.4,579.8 L302.6,612.9 L303.7,609.1 L304.9,618.4 L306.1,628.5 L307.2,617.7 L308.4,604.9 L309.5,574.9 L310.7,588.6 L311.9,608.9 L313.0,594.7 L314.2,607.5 L315.3,593.9 L316.5,613.4 L317.7,589.4 L318.8,606.7 L320.0,590.4 L321.1,618.2 L322.3,590.9 L323.5,608.5 L324.6,592.6 L325.8,615.6 L326.9,586.5 L328.1,606.7 L329.3,581.1 L330.4,604.2 L331.6,586.3 L332.7,597.2 L333.9,616.6 L335.1,588.8 L336.2,608.4 L337.4,652.9 L338.5,729.7 L339.7,837.6 L340.9,860.3 L342.0,883.0 L343.2,877.5 L344.3,896.7 L345.5,898.4 L346.7,879.7 L347.8,898.2 L349.0,889.8 L350.1,906.3 L351.3,879.3 L352.5,912.9 L353.6,890.2 L354.8,912.9 L355.9,903.2 L357.1,911.7 L358.3,898.5 L359.4,910.0 L360.6,889.4 L361.7,912.3 L362.9,892.7 L364.1,922.0 L365.2,897.8 L366.4,909.2 L367.5,894.5 L368.7,895.2 L369.9,890.8 L371.0,878.2 L372.2,891.9 L373.3,897.7 L374.5,921.9 L375.7,898.7 L376.8,920.4 L378.0,906.4 L379.1,926.6 L380.3,908.6 L381.5,909.9 L382.6,929.2 L383.8,908.2 L384.9,941.0 L386.1,906.8 L387.3,894.4 L388.4,884.0 L389.6,899.3 L390.7,912.4 L391.9,923.5 L393.1,911.0 L394.2,914.1 L395.4,940.5 L396.5,916.1 L397.7,945.2 L398.9,924.2 L400.0,943.7 L401.2,945.0 L402.3,914.8 L403.5,936.9 L404.7,916.6 L405.8,939.3 L407.0,932.5 L408.1,952.9 L409.3,947.2 L410.5,926.9 L411.6,940.9 L412.8,943.4 L413.9,957.1 L415.1,963.5 L416.3,956.1 L417.4,944.5 L418.6,944.9 L419.8,929.1 L420.9,941.2 L422.1,922.2 L423.2,948.1 L424.4,924.9 L425.6,941.9 L426.7,925.2 L427.9,939.7 L429.0,917.7 L430.2,953.8 L431.4,938.6 L432.5,951.3 L433.7,922.7 L434.8,944.1 L436.0,947.6 L437.2,930.9 L438.3,938.6 L439.5,926.8 L440.6,938.1 L441.8,917.3 L443.0,932.1 L444.1,953.7 L445.3,926.4 L446.4,955.5 L447.6,931.4 L448.8,952.5 L449.9,926.5 L451.1,937.8 L452.2,918.0 L453.4,938.1 L454.6,925.0 L455.7,959.1 L456.9,896.6 L458.0,817.4 L459.2,715.3 L460.4,669.2 L461.5,683.6 L462.7,660.7 L463.8,677.6 L465.0,649.0 L466.2,675.6 L467.3,678.6 L468.5,664.4 L469.6,670.8 L470.8,649.4 L472.0,665.4 L473.1,648.8 L474.3,661.9 L475.4,644.5 L476.6,663.7 L477.8,664.1 L478.9,646.6 L480.1,641.4 L481.2,659.9 L482.4,637.3 L483.6,661.6 L484.7,641.1 L485.9,631.2 L487.0,666.1 L488.2,637.5 L489.4,655.5 L490.5,663.3 L491.7,628.7 L492.8,649.6 L494.0,631.9 L495.2,637.4 L496.3,625.9 L497.5,614.4 L498.6,607.1 L499.8,612.3 L501.0,625.3 L502.1,630.0 L503.3,646.5 L504.4,633.2 L505.6,642.3 L506.8,620.6 L507.9,642.6 L509.1,623.4 L510.2,641.8 L511.4,618.9 L512.6,648.0 L513.7,619.4 L514.9,639.8 L516.0,613.1 L517.2,636.1 L518.4,635.0 L519.5,614.2 L520.7,636.8 L521.8,637.8 L523.0,608.4 L524.2,625.9 L525.3,606.3 L526.5,633.1 L527.6,612.2 L528.8,620.3 L530.0,600.8 L531.1,620.5 L532.3,609.6 L533.4,611.1 L534.6,634.7 L535.8,612.9 L536.9,622.5 L538.1,602.3 L539.2,635.5 L540.4,636.6 L541.6,613.6 L542.7,627.8 L543.9,607.7 L545.1,621.5 L546.2,621.1 L547.4,610.2 L548.5,636.3 L549.7,608.8 L550.9,637.0 L552.0,619.2 L553.2,636.1 L554.3,623.2 L555.5,642.3 L556.7,611.3 L557.8,635.6 L559.0,608.1 L560.1,640.4 L561.3,610.5 L562.5,621.2 L563.6,630.1 L564.8,604.8 L565.9,627.9 L567.1,603.7 L568.3,602.2 L569.4,632.2 L570.6,604.4 L571.7,624.8 L572.9,602.4 L574.1,627.0 L575.2,612.8 L576.4,637.0 L577.5,610.5 L578.7,620.7 L579.9,594.4 L581.0,624.7 L582.2,647.9 L583.3,756.3 L584.5,817.2 L585.7,881.7 L586.8,874.8 L588.0,894.5 L589.1,880.8 L590.3,898.5 L591.5,882.5 L592.6,909.2 L593.8,892.7 L594.9,890.4 L596.1,914.9 L597.3,899.3 L598.4,908.7 L599.6,922.0 L600.7,915.7 L601.9,892.3 L603.1,919.8 L604.2,899.5 L605.4,916.0 L606.5,903.3 L607.7,928.4 L608.9,908.4 L610.0,923.4 L611.2,914.0 L612.3,930.2 L613.5,910.3 L614.7,935.5 L615.8,925.5 L617.0,941.8 L618.1,923.6 L619.3,933.5 L620.5,912.4 L621.6,924.4 L622.8,938.8 L623.9,922.9 L625.1,937.3 L626.3,917.0 L627.4,944.2 L628.6,945.0 L629.7,921.0 L630.9,939.3 L632.1,923.0 L633.2,950.2 L634.4,921.3 L635.5,933.9 L636.7,924.7 L637.9,943.6 L639.0,929.6 L640.2,951.5 L641.3,931.0 L642.5,951.8 L643.7,922.7 L644.8,955.2 L646.0,930.2 L647.1,953.1 L648.3,936.3 L649.5,953.8 L650.6,939.6 L651.8,938.3 L652.9,956.5 L654.1,934.7 L655.3,955.7 L656.4,937.0 L657.6,956.7 L658.7,930.5 L659.9,955.7 L661.1,962.5 L662.2,944.5 L663.4,939.7 L664.5,953.0 L665.7,929.3 L666.9,947.1 L668.0,943.3 L669.2,967.7 L670.4,940.3 L671.5,948.5 L672.7,967.1 L673.8,944.2 L675.0,957.7 L676.2,942.9 L677.3,965.4 L678.5,970.1 L679.6,961.6 L680.8,949.2 L682.0,963.9 L683.1,940.6 L684.3,963.9 L685.4,940.7 L686.6,953.2 L687.8,967.4 L688.9,950.0 L690.1,975.2 L691.2,951.9 L692.4,972.1 L693.6,952.3 L694.7,947.6 L695.9,968.5 L697.0,960.9 L698.2,939.7 L699.4,949.1 L700.5,968.7 L701.7,978.2 L702.8,862.5 L704.0,787.6 L705.2,669.9 L706.3,693.3 L707.5,665.1 L708.6,689.6 L709.8,659.4 L711.0,690.6 L712.1,671.4 L713.3,682.2 L714.4,657.1 L715.6,682.8 L716.8,666.7 L717.9,641.6 L719.1,657.0 L720.2,655.6 L721.4,636.7 L722.6,657.2 L723.7,645.6 L724.9,648.3 L726.0,668.7 L727.2,644.9 L728.4,657.9 L729.5,639.9 L730.7,669.2 L731.8,643.9 L733.0,669.6 L734.2,651.9 L735.3,667.8 L736.5,652.3 L737.6,636.9 L738.8,622.1 L740.0,609.5 L741.1,622.1 L742.3,631.6 L743.4,652.1 L744.6,657.2 L745.8,636.3 L746.9,650.0 L748.1,656.2 L749.2,668.8 L750.4,658.9 L751.6,651.9 L752.7,642.4 L753.9,655.2 L755.0,632.7 L756.2,640.9 L757.4,626.3 L758.5,649.3 L759.7,626.1 L760.8,642.5 L762.0,626.1 L763.2,638.8 L764.3,656.9 L765.5,627.5 L766.6,617.8 L767.8,608.3 L769.0,621.5 L770.1,631.0 L771.3,650.6 L772.4,647.4 L773.6,627.1 L774.8,643.5 L775.9,622.8 L777.1,629.1 L778.2,644.2 L779.4,640.1 L780.6,618.8 L781.7,614.9 L782.9,621.1 L784.0,642.7 L785.2,649.2 L786.4,622.5 L787.5,641.1 L788.7,641.2 L789.9,626.6 L791.0,648.0 L792.2,637.0 L793.3,653.1 L794.5,630.2 L795.7,622.4 L796.8,659.7 L798.0,629.7 L799.1,633.9 L800.3,633.4 L801.5,651.2 L802.6,638.3 L803.8,658.5 L804.9,627.0 L806.1,647.3 L807.3,627.9 L808.4,650.8 L809.6,633.8 L810.7,651.1 L811.9,621.9 L813.1,639.0 L814.2,626.8 L815.4,642.0 L816.5,628.6 L817.7,620.7 L818.9,610.3 L820.0,623.9 L821.2,628.8 L822.3,643.4 L823.5,641.9 L824.7,667.0 L825.8,760.8 L827.0,822.2 L828.1,872.7 L829.3,869.7 L830.5,874.4 L831.6,905.6 L832.8,881.3 L833.9,912.8 L835.1,914.2 L836.3,921.0 L837.4,906.1 L838.6,928.9 L839.7,922.7 L840.9,945.6 L842.1,920.0 L843.2,937.8 L844.4,917.2 L845.5,947.2 L846.7,933.5 L847.9,941.2 L849.0,923.8 L850.2,951.1 L851.3,922.7 L852.5,938.8 L853.7,916.7 L854.8,948.6 L856.0,955.6 L857.1,925.6 L858.3,934.8 L859.5,931.3 L860.6,952.4 L861.8,950.9 L862.9,941.8 L864.1,932.8 L865.3,954.7 L866.4,936.0 L867.6,957.0 L868.7,931.2 L869.9,915.8 L871.1,936.3 L872.2,920.1 L873.4,924.9 L874.5,945.4 L875.7,922.4 L876.9,945.0 L878.0,928.1 L879.2,956.4 L880.3,934.8 L881.5,956.4 L882.7,962.8 L883.8,939.7 L885.0,955.0 L886.1,934.4 L887.3,958.6 L888.5,939.6 L889.6,954.7 L890.8,931.1 L891.9,954.9 L893.1,937.2 L894.3,954.7 L895.4,935.6 L896.6,941.9 L897.7,960.0 L898.9,947.8 L900.1,969.7 L901.2,952.7 L902.4,963.0 L903.5,948.5 L904.7,979.4 L905.9,953.9 L907.0,973.5 L908.2,950.5 L909.3,969.9 L910.5,946.6 L911.7,963.7 L912.8,944.3 L914.0,945.6 L915.2,964.7 L916.3,943.6 L917.5,963.5 L918.6,971.7 L919.8,955.4 L921.0,977.9 L922.1,948.9 L923.3,970.5 L924.4,945.5 L925.6,964.7 L926.8,948.5 L927.9,971.2 L929.1,952.7 L930.2,977.8 L931.4,970.9 L932.6,945.2 L933.7,978.7 L934.9,990.4 L936.0,1003.9 L937.2,992.6 L938.4,977.3 L939.5,955.7 L940.7,978.4 L941.8,971.7 L943.0,956.9 L944.2,973.5 L945.3,950.5 L946.5,871.1 L947.6,797.2 L948.8,690.5 L950.0,711.9 L951.1,711.0 L952.3,694.9 L953.4,717.0 L954.6,692.7 L955.8,714.8 L956.9,684.9 L958.1,709.1 L959.2,682.4 L960.4,706.8 L961.6,672.9 L962.7,693.5 L963.9,686.1 L965.0,702.0 L966.2,698.9 L967.4,680.5 L968.5,689.4 L969.7,680.5 L970.8,694.0 L972.0,681.1 L973.2,696.4 L974.3,685.7 L975.5,664.2 L976.6,689.4 L977.8,668.7 L979.0,687.0 L980.1,690.3 L981.3,701.9 L982.4,717.4 L983.6,701.7 L984.8,687.6 L985.9,661.7 L987.1,694.0 L988.2,670.3 L989.4,689.9 L990.6,678.2 L991.7,648.3 L992.9,650.0 L994.0,681.0 L995.2,657.3 L996.4,675.0 L997.5,678.2 L998.7,649.5 L999.8,642.6 L1001.0,632.5 L1002.2,642.0 L1003.3,647.5 L1004.5,653.2 L1005.6,669.6 L1006.8,646.3 L1008.0,673.7 L1009.1,652.9 L1010.3,651.0 L1011.4,659.5 L1012.6,660.7 L1013.8,643.0 L1014.9,666.1 L1016.1,643.7 L1017.2,665.0 L1018.4,669.1 L1019.6,660.2 L1020.7,646.0 L1021.9,667.9 L1023.0,644.6 L1024.2,660.5 L1025.4,643.7 L1026.5,654.8 L1027.7,667.5 L1028.8,648.2 L1030.0,660.1 L1031.2,647.2 L1032.3,665.0 L1033.5,639.1 L1034.6,663.7 L1035.8,638.1 L1037.0,657.2 L1038.1,664.0 L1039.3,653.6 L1040.5,642.0 L1041.6,631.5 L1042.8,619.0 L1043.9,632.3 L1045.1,639.9 L1046.3,641.9 L1047.4,660.1 L1048.6,636.4 L1049.7,653.5 L1050.9,644.5 L1052.1,640.2 L1053.2,656.8 L1054.4,632.9 L1055.5,655.5 L1056.7,639.3 L1057.9,639.5 L1059.0,664.2 L1060.2,640.2 L1061.3,653.2 L1062.5,632.1 L1063.7,656.2 L1064.8,633.1 L1066.0,622.6 L1067.1,612.7 L1068.3,621.0 L1069.5,670.9 L1070.6,781.4 L1071.8,846.9 L1072.9,913.5 L1074.1,891.4 L1075.3,914.3 L1076.4,892.9 L1077.6,923.2 L1078.7,901.7 L1079.9,922.5 L1081.1,921.8 L1082.2,924.9 L1083.4,904.8 L1084.5,930.5 L1085.7,924.3 L1086.9,938.8 L1088.0,929.8 L1089.2,926.2 L1090.3,936.8 L1091.5,923.5 L1092.7,925.2 L1093.8,947.5 L1095.0,946.3 L1096.1,938.5 L1097.3,941.6 L1098.5,958.5 L1099.6,941.1 L1100.8,926.0 L1101.9,922.5 L1103.1,931.7 L1104.3,941.5 L1105.4,970.8 L1106.6,944.7 L1107.7,946.7 L1108.9,967.6 L1110.1,952.1 L1111.2,980.2 L1112.4,950.3 L1113.5,969.9 L1114.7,953.9 L1115.9,967.1 L1117.0,949.5 L1118.2,980.1 L1119.3,949.0 L1120.5,969.1 L1121.7,950.7 L1122.8,947.3 L1124.0,934.6 L1125.1,945.2 L1126.3,954.1 L1127.5,955.5 L1128.6,977.3 L1129.8,951.0 L1130.9,973.6 L1132.1,957.9 L1133.3,969.0 L1134.4,956.1 L1135.6,982.0 L1136.7,958.4 L1137.9,979.9 L1139.1,952.3 L1140.2,967.7 L1141.4,954.3 L1142.5,952.9 L1143.7,956.5 L1144.9,977.9 L1146.0,968.4 L1147.2,985.3 L1148.3,961.6 L1149.5,981.1 L1150.7,981.9 L1151.8,964.1 L1153.0,982.9 L1154.1,966.1 L1155.3,979.1 L1156.5,987.3 L1157.6,968.1 L1158.8,986.4 L1159.9,970.2 L1161.1,993.0 L1162.3,965.8 L1163.4,984.3 L1164.6,968.7 L1165.8,989.3 L1166.9,968.9 L1168.1,994.3 L1169.2,963.9 L1170.4,989.8 L1171.6,970.6 L1172.7,984.2 L1173.9,965.4 L1175.0,989.5 L1176.2,998.1 L1177.4,1007.3 L1178.5,997.8 L1179.7,991.1 L1180.8,988.3 L1182.0,967.0 L1183.2,988.7 L1184.3,972.9 L1185.5,977.2 L1186.6,995.2 L1187.8,983.9 L1189.0,978.8 L1190.1,961.6 L1191.3,847.5 L1192.4,797.8 L1193.6,731.6 L1194.8,739.3 L1195.9,712.2 L1197.1,732.0 L1198.2,706.9 L1199.4,730.8 L1200.6,703.3 L1201.7,728.8 L1202.9,725.5 L1204.0,722.7 L1205.2,701.6 L1206.4,724.4 L1207.5,704.6 L1208.7,715.5 L1209.8,694.1 L1211.0,724.6 L1212.2,702.8 L1213.3,716.4 L1214.5,708.9 L1215.6,726.3 L1216.8,725.0 L1218.0,693.1 L1219.1,705.4 L1220.3,687.2 L1221.4,708.1 L1222.6,696.4 L1223.8,706.9 L1224.9,680.7 L1226.1,705.7 L1227.2,683.7 L1228.4,704.2 L1229.6,683.6 L1230.7,705.2 L1231.9,688.9 L1233.0,705.7 L1234.2,673.2 L1235.4,693.0 L1236.5,684.5 L1237.7,698.7 L1238.8,680.3 L1240.0,698.6 L1241.2,675.1 L1242.3,687.8 L1243.5,666.8 L1244.6,695.7 L1245.8,671.7 L1247.0,695.7 L1248.1,677.5 L1249.3,684.6 L1250.4,659.8 L1251.6,690.4 L1252.8,666.8 L1253.9,679.2 L1255.1,659.0 L1256.2,663.7 L1257.4,672.5 L1258.6,658.2 L1259.7,655.3 L1260.9,668.2 L1262.0,654.4 L1263.2,674.3 L1264.4,661.8 L1265.5,647.7 L1266.7,637.4 L1267.8,650.6 L1269.0,676.6 L1270.2,685.4 L1271.3,691.2 L1272.5,683.9 L1273.6,673.6 L1274.8,661.9 L1276.0,685.3 L1277.1,686.4 L1278.3,665.5 L1279.4,673.7 L1280.6,651.1 L1281.8,672.5 L1282.9,648.9 L1284.1,651.2 L1285.3,638.5 L1286.4,628.7 L1287.6,641.5 L1288.7,649.7 L1289.9,661.6 L1291.1,650.7 L1292.2,665.9 L1293.4,653.7 L1294.5,677.5 L1295.7,640.1 L1296.9,663.8 L1298.0,642.8 L1299.2,669.6 L1300.3,656.2 L1301.5,672.9 L1302.7,646.4 L1303.8,669.9 L1305.0,650.5 L1306.1,673.2 L1307.3,653.8 L1308.5,665.2 L1309.6,643.4 L1310.8,664.2 L1311.9,643.0 L1313.1,673.7 L1314.3,701.2 L1315.4,793.5 L1316.6,858.4 L1317.7,927.9 L1318.9,910.1 L1320.1,915.0 L1321.2,939.2 L1322.4,921.2 L1323.5,945.4 L1324.7,924.9 L1325.9,918.8 L1327.0,950.5 L1328.2,929.9 L1329.3,954.1 L1330.5,943.5 L1331.7,940.2 L1332.8,965.2 L1334.0,954.9 L1335.1,979.1 L1336.3,956.1 L1337.5,977.1 L1338.6,951.2 L1339.8,974.3 L1340.9,954.9 L1342.1,972.5 L1343.3,948.8 L1344.4,951.6 L1345.6,979.6 L1346.7,954.0 L1347.9,979.8 L1349.1,956.4 L1350.2,988.8 L1351.4,970.8 L1352.5,976.4 L1353.7,953.0 L1354.9,969.9 L1356.0,961.3 L1357.2,987.1 L1358.3,957.9 L1359.5,980.2 L1360.7,951.4 L1361.8,979.2 L1363.0,954.8 L1364.1,955.8 L1365.3,942.8 L1366.5,931.8 L1367.6,941.5 L1368.8,955.6 L1369.9,975.2 L1371.1,970.7 L1372.3,968.5 L1373.4,993.1 L1374.6,965.2 L1375.7,983.3 L1376.9,968.8 L1378.1,983.6 L1379.2,956.8 L1380.4,988.5 L1381.5,983.8 L1382.7,992.0 L1383.9,965.3 L1385.0,991.4 L1386.2,969.3 L1387.3,989.5 L1388.5,978.3 L1389.7,973.5 L1390.8,996.7 L1392.0,983.1 L1393.1,994.1 L1394.3,973.4 L1395.5,1000.4 L1396.6,980.4 L1397.8,977.7 L1398.9,998.2 L1400.1,981.4 L1401.3,998.5 L1402.4,1012.8 L1403.6,1024.6 L1404.7,1014.3 L1405.9,1003.8 L1407.1,992.7 L1408.2,972.6 L1409.4,1002.3 L1410.6,980.7 L1411.7,981.9 L1412.9,1002.5 L1414.0,977.0 L1415.2,997.8 L1416.4,971.1 L1417.5,986.6 L1418.7,975.4 L1419.8,985.4 L1421.0,974.8 L1422.2,994.7 L1423.3,970.1 L1424.5,998.1 L1425.6,975.2 L1426.8,987.6 L1428.0,990.6 L1429.1,969.9 L1430.3,1001.1 L1431.4,996.2 L1432.6,1005.3 L1433.8,988.9 L1434.9,962.3 L1436.1,861.3 L1437.2,789.1 L1438.4,724.0 L1439.6,742.0 L1440.7,722.2 L1441.9,713.0 L1443.0,717.8 L1444.2,727.6 L1445.4,708.7 L1446.5,727.5 L1447.7,697.6 L1448.8,720.7 L1450.0,687.6 L1451.2,718.6 L1452.3,709.3 L1453.5,724.6 L1454.6,704.7 L1455.8,720.0 L1457.0,698.6 L1458.1,716.8 L1459.3,701.6 L1460.4,707.8 L1461.6,682.8 L1462.8,683.1 L1463.9,707.3 L1465.1,691.6 L1466.2,713.5 L1467.4,684.2 L1468.6,688.1 L1469.7,711.4 L1470.9,684.9 L1472.0,709.9 L1473.2,690.0 L1474.4,682.5 L1475.5,709.6 L1476.7,693.2 L1477.8,720.5 L1479.0,682.0 L1480.2,695.0 L1481.3,668.1 L1482.5,688.0 L1483.6,677.1 L1484.8,669.0 L1486.0,674.3 L1487.1,683.3 L1488.3,693.3 L1489.4,682.3 L1490.6,677.1 L1491.8,695.1 L1492.9,685.1 L1494.1,704.0 L1495.2,687.5 L1496.4,707.0 L1497.6,680.1 L1498.7,701.9 L1499.9,677.1 L1501.0,697.7 L1502.2,670.3 L1503.4,689.0 L1504.5,672.0 L1505.7,693.5 L1506.8,693.9 L1508.0,677.0 L1509.2,669.7 L1510.3,674.7 L1511.5,687.2 L1512.6,663.1 L1513.8,685.4 L1515.0,661.4 L1516.1,696.3 L1517.3,671.7 L1518.4,656.0 L1519.6,643.2 L1520.8,654.9 L1521.9,669.2 L1523.1,690.4 L1524.2,695.0 L1525.4,664.9 L1526.6,687.9 L1527.7,673.3 L1528.9,678.2 L1530.0,673.6 L1531.2,692.1 L1532.4,669.5 L1533.5,693.3 L1534.7,676.7 L1535.9,692.0 L1537.0,658.1 L1538.2,679.1 L1539.3,664.7 L1540.5,685.4 L1541.7,687.3 L1542.8,678.3 L1544.0,699.7 L1545.1,677.8 L1546.3,694.3 L1547.5,687.5 L1548.6,667.4 L1549.8,684.3 L1550.9,669.3 L1552.1,698.5 L1553.3,668.6 L1554.4,683.5 L1555.6,667.2 L1556.7,662.4 L1557.9,736.9 L1559.1,802.4 L1560.2,910.1 L1561.4,936.8 L1562.5,963.0 L1563.7,944.8 L1564.9,951.2 L1566.0,951.5 L1567.2,963.4 L1568.3,953.7 L1569.5,952.8 L1570.7,971.9 L1571.8,951.8 L1573.0,979.2 L1574.1,949.3 L1575.3,977.6 L1576.5,957.7 L1577.6,982.4 L1578.8,960.1 L1579.9,975.8 L1581.1,955.5 L1582.3,987.1 L1583.4,965.0 L1584.6,987.1 L1585.7,971.2 L1586.9,989.9 L1588.1,977.9 L1589.2,989.7 L1590.4,965.8 L1591.5,973.9 L1592.7,980.4 L1593.9,997.6 L1595.0,969.8 L1596.2,996.6 L1597.3,972.0 L1598.5,985.2 L1599.7,971.3 L1600.8,994.1 L1602.0,988.9 L1603.1,978.8 L1604.3,989.5 L1605.5,980.6 L1606.6,1002.4 L1607.8,990.7 L1608.9,1013.8 L1610.1,986.5 L1611.3,1004.0 L1612.4,980.6 L1613.6,991.1 L1614.7,1014.7 L1615.9,991.9 L1617.1,1005.9 L1618.2,983.6 L1619.4,1002.0 L1620.5,1007.7 L1621.7,991.2 L1622.9,983.6 L1624.0,995.2 L1625.2,1009.9 L1626.3,1010.7 L1627.5,989.6 L1628.7,1005.1 L1629.8,993.6 L1631.0,1013.6 L1632.1,1022.4 L1633.3,1034.2 L1634.5,1021.8 L1635.6,1014.7 L1636.8,994.2 L1637.9,1012.0 L1639.1,996.3 L1640.3,1026.4 L1641.4,996.9 L1642.6,1024.5 L1643.7,1003.1 L1644.9,1020.7 L1646.1,986.2 L1647.2,1000.4 L1648.4,1010.5 L1649.5,999.2 L1650.7,1015.8 L1651.9,999.3 L1653.0,1014.3 L1654.2,988.8 L1655.4,1000.4 L1656.5,1018.2 L1657.7,1013.9 L1658.8,981.0 L1660.0,1013.4 L1661.2,988.9 L1662.3,1018.2 L1663.5,1007.7 L1664.6,1023.7 L1665.8,994.6 L1667.0,999.8 L1668.1,1020.1 L1669.3,988.6 L1670.4,1016.6 L1671.6,986.8 L1672.8,1008.3 L1673.9,980.4 L1675.1,1015.4 L1676.2,993.8 L1677.4,1017.9 L1678.6,1007.6 L1679.7,952.9 L1680.9,891.3 L1682.0,783.2 L1683.2,759.3 L1684.4,732.9 L1685.5,742.5 L1686.7,732.4 L1687.8,753.6 L1689.0,731.1 L1690.2,735.1 L1691.3,744.7 L1692.5,724.0 L1693.6,716.2 L1694.8,745.0 L1696.0,720.7 L1697.1,745.8 L1698.3,718.1 L1699.4,742.2 L1700.6,741.7 L1701.8,715.8 L1702.9,730.2 L1704.1,732.3 L1705.2,708.8 L1706.4,696.3 L1707.6,723.3 L1708.7,712.8 L1709.9,725.9 L1711.0,704.6 L1712.2,715.7 L1713.4,693.5 L1714.5,702.2 L1715.7,724.3 L1716.8,730.8 L1718.0,709.9 L1719.2,732.0 L1720.3,698.6 L1721.5,731.0 L1722.6,730.7 L1723.8,728.5 L1725.0,707.3 L1726.1,728.3 L1727.3,708.8 L1728.4,725.1 L1729.6,703.4 L1730.8,719.3 L1731.9,700.3 L1733.1,707.8 L1734.2,726.4 L1735.4,699.0 L1736.6,712.8 L1737.7,684.7 L1738.9,698.5 L1740.0,677.3 L1741.2,709.2 L1742.4,682.8 L1743.5,710.0 L1744.7,689.4 L1745.8,704.0 L1747.0,690.7 L1748.2,715.1 L1749.3,693.9 L1750.5,710.2 L1751.6,686.9 L1752.8,714.2 L1754.0,683.6 L1755.1,716.7 L1756.3,694.0 L1757.4,691.3 L1758.6,707.1 L1759.8,686.7 L1760.9,715.1 L1762.1,679.8 L1763.2,695.8 L1764.4,674.3 L1765.6,709.6 L1766.7,709.4 L1767.9,681.4 L1769.0,709.4 L1770.2,684.4 L1771.4,713.7 L1772.5,686.5 L1773.7,716.7 L1774.8,696.4 L1776.0,708.4 L1777.2,712.5 L1778.3,684.6 L1779.5,700.7 L1780.7,689.3 L1781.8,704.6 L1783.0,689.5 L1784.1,709.7 L1785.3,687.1 L1786.5,704.6 L1787.6,681.6 L1788.8,713.5 L1789.9,682.6 L1791.1,699.3 L1792.3,681.5 L1793.4,702.7 L1794.6,678.0 L1795.7,679.2 L1796.9,667.4 L1798.1,654.6 L1799.2,668.6 L1800.4,676.8 L1801.5,726.9 L1802.7,826.1 L1803.9,890.4 L1805.0,943.8 L1806.2,928.9 L1807.3,932.8 L1808.5,952.8 L1809.7,935.8 L1810.8,959.0 L1812.0,949.4 L1813.1,973.2 L1814.3,962.1 L1815.5,980.7 L1816.6,960.8 L1817.8,977.9 L1818.9,959.1 L1820.1,970.8 L1821.3,985.8 L1822.4,964.4 L1823.6,987.2 L1824.7,962.3 L1825.9,979.7 L1827.1,967.7 L1828.2,989.4 L1829.4,972.7 L1830.5,959.9 L1831.7,950.5 L1832.9,960.2 L1834.0,972.5 L1835.2,982.5 L1836.3,1002.6 L1837.5,984.9 L1838.7,1007.0 L1839.8,977.1 L1841.0,994.6 L1842.1,976.8 L1843.3,999.9 L1844.5,975.9 L1845.6,997.7 L1846.8,983.3 L1847.9,1000.1 L1849.1,971.4 L1850.3,994.8 L1851.4,983.5 L1852.6,1002.3 L1853.7,979.2 L1854.9,992.5 L1856.1,971.0 L1857.2,992.3 L1858.4,970.2 L1859.5,983.6 L1860.7,1003.1 L1861.9,986.4 L1863.0,1001.2 L1864.2,985.2 L1865.3,1005.6 L1866.5,1005.5 L1867.7,984.8 L1868.8,983.5 L1870.0,1011.4 L1871.1,991.2 L1872.3,1009.2 L1873.5,989.7 L1874.6,998.6 L1875.8,989.4 L1876.9,1011.2 L1878.1,988.6 L1879.3,1002.3 L1880.4,980.1 L1881.6,1004.7 L1882.7,982.5 L1883.9,989.5 L1885.1,994.8 L1886.2,970.7 L1887.4,1003.0 L1888.5,982.6 L1889.7,1010.1 L1890.9,1014.3 L1892.0,982.7 L1893.2,1010.1 L1894.3,988.4 L1895.5,1013.0 L1896.7,996.3 L1897.8,1013.5 L1899.0,982.9 L1900.1,1013.8 L1901.3,997.5 L1902.5,1012.6 L1903.6,996.8 L1904.8,997.9 L1906.0,1021.6 L1907.1,1000.4 L1908.3,1014.7 L1909.4,1021.2 L1910.6,999.0 L1911.8,1022.9 L1912.9,1000.2 L1914.1,1034.2 L1915.2,1012.1 L1916.4,1023.7 L1917.6,1035.6 L1918.7,1045.2 L1919.9,1033.6 L1921.0,1025.6 L1922.2,955.8 L1923.4,899.5 L1924.5,789.8 L1925.7,764.9 L1926.8,755.4 L1928.0,763.5 L1929.2,748.8 L1930.3,768.4 L1931.5,731.3 L1932.6,747.4 L1933.8,723.4 L1935.0,738.9 L1936.1,723.6 L1937.3,738.3 L1938.4,719.6 L1939.6,756.5 L1940.8,748.9 L1941.9,725.4 L1943.1,747.7 L1944.2,727.5 L1945.4,750.6 L1946.6,726.9 L1947.7,746.6 L1948.9,718.4 L1950.0,752.9 L1951.2,731.2 L1952.4,728.4 L1953.5,748.2 L1954.7,728.3 L1955.8,746.8 L1957.0,729.0 L1958.2,746.6 L1959.3,719.6 L1960.5,736.1 L1961.6,715.8 L1962.8,733.8 L1964.0,715.2 L1965.1,744.0 L1966.3,710.6 L1967.4,718.8 L1968.6,734.1 L1969.8,707.9 L1970.9,698.2 L1972.1,721.3 L1973.2,710.7 L1974.4,733.2 L1975.6,705.6 L1976.7,710.1 L1977.9,729.3 L1979.0,706.9 L1980.2,697.3 L1981.4,690.6 L1982.5,700.4 L1983.7,708.3 L1984.8,724.8 L1986.0,712.8 L1987.2,724.5 L1988.3,704.4 L1989.5,723.2 L1990.6,705.1 L1991.8,727.8 L1993.0,702.2 L1994.1,714.0 L1995.3,704.3 L1996.4,727.8 L1997.6,696.2 L1998.8,718.6 L1999.9,693.6 L2001.1,719.9 L2002.2,688.6 L2003.4,716.4 L2004.6,688.6 L2005.7,712.9 L2006.9,696.9 L2008.0,716.4 L2009.2,711.8 L2010.4,711.2 L2011.5,684.6 L2012.7,715.7 L2013.8,688.9 L2015.0,696.2 L2016.2,675.9 L2017.3,702.2 L2018.5,676.0 L2019.6,697.1 L2020.8,681.8 L2022.0,701.6 L2023.1,681.5 L2024.3,696.6 L2025.4,682.7 L2026.6,701.0 L2027.8,684.7 L2028.9,695.0 L2030.1,677.3 L2031.3,702.9 L2032.4,674.4 L2033.6,679.3 L2034.7,666.0 L2035.9,656.4 L2037.1,664.5 L2038.2,679.3 L2039.4,681.0 L2040.5,703.3 L2041.7,681.4 L2042.9,696.5 L2044.0,674.5 L2045.2,699.3 L2046.3,725.1 L2047.5,830.5 L2048.7,892.9 L2049.8,936.7 L2051.0,941.7 L2052.1,962.3 L2053.3,946.6 L2054.5,975.5 L2055.6,944.4 L2056.8,963.9 L2057.9,945.7 L2059.1,968.6 L2060.3,948.8 L2061.4,974.9 L2062.6,956.5 L2063.7,988.9 L2064.9,965.9 L2066.1,954.3 L2067.2,951.2 L2068.4,959.4 L2069.5,968.1 L2070.7,991.2 L2071.9,984.8 L2073.0,970.8 L2074.2,988.0 L2075.3,968.8 L2076.5,992.4 L2077.7,971.6 L2078.8,996.9 L2080.0,964.4 L2081.1,988.5 L2082.3,979.6 L2083.5,997.1 L2084.6,971.5 L2085.8,995.2 L2086.9,972.1 L2088.1,1003.4"/>
<path class="tr" stroke="#ff0000" d="M231.8,1281.0 L233.0,1243.4 L234.1,1229.6 L235.3,1248.3 L236.4,1230.1 L237.6,1245.2 L238.8,1227.4 L239.9,1242.4 L241.1,1225.0 L242.2,1240.5 L243.4,1238.7 L244.6,1218.7 L245.7,1238.9 L246.9,1212.1 L248.0,1228.0 L249.2,1208.8 L250.4,1234.4 L251.5,1215.8 L252.7,1240.6 L253.8,1218.9 L255.0,1221.1 L256.2,1223.3 L257.3,1233.3 L258.5,1216.7 L259.6,1227.0 L260.8,1210.6 L262.0,1229.8 L263.1,1215.6 L264.3,1206.0 L265.4,1231.2 L266.6,1208.6 L267.8,1236.7 L268.9,1214.9 L270.1,1236.9 L271.2,1218.7 L272.4,1233.3 L273.6,1214.9 L274.7,1234.1 L275.9,1214.5 L277.0,1236.9 L278.2,1217.0 L279.4,1223.7 L280.5,1210.1 L281.7,1229.8 L282.8,1215.7 L284.0,1230.3 L285.2,1221.3 L286.3,1231.2 L287.5,1217.3 L288.6,1215.4 L289.8,1211.5 L291.0,1215.3 L292.1,1218.9 L293.3,1232.1 L294.5,1214.5 L295.6,1233.7 L296.8,1235.8 L297.9,1211.5 L299.1,1227.9 L300.3,1212.5 L301.4,1223.7 L302.6,1208.6 L303.7,1227.8 L304.9,1211.0 L306.1,1227.3 L307.2,1214.5 L308.4,1226.7 L309.5,1204.7 L310.7,1223.6 L311.9,1212.8 L313.0,1227.6 L314.2,1223.5 L315.3,1203.1 L316.5,1182.7 L317.7,1171.2 L318.8,1184.7 L320.0,1196.5 L321.1,1227.7 L322.3,1210.7 L323.5,1226.0 L324.6,1202.9 L325.8,1222.6 L326.9,1207.5 L328.1,1222.1 L329.3,1199.6 L330.4,1217.0 L331.6,1198.1 L332.7,1225.2 L333.9,1207.5 L335.1,1224.6 L336.2,1204.1 L337.4,1224.3 L338.5,1200.4 L339.7,1223.3 L340.9,1257.9 L342.0,1331.7 L343.2,1374.4 L344.3,1398.8 L345.5,1379.5 L346.7,1386.9 L347.8,1395.2 L349.0,1379.7 L350.1,1375.4 L351.3,1389.6 L352.5,1377.6 L353.6,1392.9 L354.8,1392.7 L355.9,1374.8 L357.1,1389.5 L358.3,1381.3 L359.4,1394.0 L360.6,1375.2 L361.7,1375.9 L362.9,1379.3 L364.1,1394.0 L365.2,1374.3 L366.4,1392.0 L367.5,1379.8 L368.7,1398.6 L369.9,1382.8 L371.0,1386.0 L372.2,1397.0 L373.3,1390.0 L374.5,1400.2 L375.7,1386.0 L376.8,1399.9 L378.0,1408.0 L379.1,1383.8 L380.3,1388.9 L381.5,1381.9 L382.6,1375.1 L383.8,1385.4 L384.9,1393.1 L386.1,1416.0 L387.3,1399.1 L388.4,1417.5 L389.6,1410.8 L390.7,1392.8 L391.9,1417.6 L393.1,1417.6 L394.2,1400.2 L395.4,1415.7 L396.5,1388.8 L397.7,1406.0 L398.9,1395.3 L400.0,1413.9 L401.2,1395.2 L402.3,1423.8 L403.5,1396.4 L404.7,1420.7 L405.8,1404.2 L407.0,1423.6 L408.1,1409.3 L409.3,1420.3 L410.5,1408.0 L411.6,1420.9 L412.8,1409.0 L413.9,1420.7 L415.1,1406.4 L416.3,1429.4 L417.4,1408.9 L418.6,1422.0 L419.8,1409.3 L420.9,1413.6 L422.1,1402.3 L423.2,1420.3 L424.4,1407.9 L425.6,1429.1 L426.7,1407.9 L427.9,1416.3 L429.0,1431.0 L430.2,1417.5 L431.4,1436.6 L432.5,1412.3 L433.7,1438.1 L434.8,1421.2 L436.0,1432.4 L437.2,1416.4 L438.3,1431.7 L439.5,1416.4 L440.6,1431.8 L441.8,1435.5 L443.0,1417.7 L444.1,1436.6 L445.3,1425.4 L446.4,1443.6 L447.6,1422.6 L448.8,1437.4 L449.9,1419.5 L451.1,1438.0 L452.2,1424.0 L453.4,1440.6 L454.6,1419.0 L455.7,1432.7 L456.9,1416.3 L458.0,1435.1 L459.2,1417.1 L460.4,1445.7 L461.5,1392.9 L462.7,1344.9 L463.8,1274.9 L465.0,1275.0 L466.2,1260.9 L467.3,1280.3 L468.5,1264.4 L469.6,1285.4 L470.8,1267.9 L472.0,1278.0 L473.1,1255.2 L474.3,1275.8 L475.4,1253.6 L476.6,1243.2 L477.8,1234.1 L478.9,1240.1 L480.1,1242.7 L481.2,1249.5 L482.4,1238.9 L483.6,1256.5 L484.7,1237.5 L485.9,1244.1 L487.0,1228.1 L488.2,1245.8 L489.4,1234.7 L490.5,1226.6 L491.7,1223.5 L492.8,1246.1 L494.0,1230.3 L495.2,1253.3 L496.3,1247.2 L497.5,1254.5 L498.6,1229.0 L499.8,1241.3 L501.0,1228.4 L502.1,1250.6 L503.3,1227.2 L504.4,1248.6 L505.6,1228.8 L506.8,1233.4 L507.9,1246.2 L509.1,1224.3 L510.2,1241.8 L511.4,1224.6 L512.6,1247.9 L513.7,1225.0 L514.9,1236.2 L516.0,1221.6 L517.2,1223.2 L518.4,1244.9 L519.5,1232.3 L520.7,1238.2 L521.8,1227.8 L523.0,1225.7 L524.2,1242.0 L525.3,1215.5 L526.5,1233.0 L527.6,1224.2 L528.8,1241.5 L530.0,1219.6 L531.1,1244.8 L532.3,1219.2 L533.4,1245.9 L534.6,1243.4 L535.8,1226.3 L536.9,1239.1 L538.1,1222.3 L539.2,1239.0 L540.4,1223.4 L541.6,1218.8 L542.7,1228.8 L543.9,1233.6 L545.1,1222.2 L546.2,1214.2 L547.4,1237.6 L548.5,1222.2 L549.7,1232.4 L550.9,1222.6 L552.0,1238.7 L553.2,1227.8 L554.3,1243.3 L555.5,1215.0 L556.7,1226.3 L557.8,1211.8 L559.0,1209.7 L560.1,1212.7 L561.3,1233.5 L562.5,1218.5 L563.6,1234.8 L564.8,1221.1 L565.9,1227.6 L567.1,1215.3 L568.3,1228.0 L569.4,1218.0 L570.6,1229.9 L571.7,1216.3 L572.9,1235.2 L574.1,1221.3 L575.2,1233.9 L576.4,1216.8 L577.5,1237.7 L578.7,1219.3 L579.9,1233.4 L581.0,1223.8 L582.2,1241.1 L583.3,1225.7 L584.5,1244.8 L585.7,1272.0 L586.8,1332.0 L588.0,1360.8 L589.1,1387.6 L590.3,1366.1 L591.5,1380.2 L592.6,1372.9 L593.8,1391.5 L594.9,1376.4 L596.1,1401.5 L597.3,1376.3 L598.4,1397.1 L599.6,1384.0 L600.7,1399.4 L601.9,1389.0 L603.1,1385.8 L604.2,1409.8 L605.4,1395.2 L606.5,1376.5 L607.7,1406.8 L608.9,1385.9 L610.0,1401.2 L611.2,1389.2 L612.3,1403.6 L613.5,1391.3 L614.7,1389.4 L615.8,1412.0 L617.0,1400.5 L618.1,1413.6 L619.3,1393.9 L620.5,1408.0 L621.6,1394.3 L622.8,1414.7 L623.9,1403.5 L625.1,1412.5 L626.3,1399.2 L627.4,1415.5 L628.6,1391.0 L629.7,1391.5 L630.9,1407.6 L632.1,1393.0 L633.2,1418.6 L634.4,1402.9 L635.5,1430.8 L636.7,1410.2 L637.9,1425.6 L639.0,1412.9 L640.2,1429.5 L641.3,1409.6 L642.5,1427.3 L643.7,1422.0 L644.8,1416.6 L646.0,1439.4 L647.1,1409.9 L648.3,1427.7 L649.5,1417.4 L650.6,1434.0 L651.8,1421.0 L652.9,1419.1 L654.1,1428.0 L655.3,1417.1 L656.4,1434.0 L657.6,1417.6 L658.7,1435.6 L659.9,1408.9 L661.1,1429.0 L662.2,1411.8 L663.4,1424.2 L664.5,1414.7 L665.7,1424.6 L666.9,1407.8 L668.0,1425.8 L669.2,1419.2 L670.4,1435.5 L671.5,1415.0 L672.7,1442.9 L673.8,1421.9 L675.0,1444.4 L676.2,1423.5 L677.3,1440.6 L678.5,1418.7 L679.6,1436.6 L680.8,1422.7 L682.0,1445.3 L683.1,1431.8 L684.3,1423.0 L685.4,1440.4 L686.6,1417.6 L687.8,1441.4 L688.9,1434.4 L690.1,1451.6 L691.2,1430.5 L692.4,1431.7 L693.6,1445.3 L694.7,1431.3 L695.9,1443.6 L697.0,1423.5 L698.2,1442.7 L699.4,1449.5 L700.5,1440.1 L701.7,1451.9 L702.8,1441.8 L704.0,1460.6 L705.2,1453.8 L706.3,1412.6 L707.5,1369.7 L708.6,1303.6 L709.8,1258.7 L711.0,1281.3 L712.1,1265.3 L713.3,1275.0 L714.4,1263.9 L715.6,1257.8 L716.8,1263.0 L717.9,1255.4 L719.1,1246.5 L720.2,1253.0 L721.4,1258.0 L722.6,1258.2 L723.7,1254.6 L724.9,1269.4 L726.0,1274.6 L727.2,1255.2 L728.4,1250.0 L729.5,1255.1 L730.7,1270.0 L731.8,1252.3 L733.0,1261.1 L734.2,1249.2 L735.3,1243.3 L736.5,1264.3 L737.6,1240.3 L738.8,1270.0 L740.0,1260.5 L741.1,1246.7 L742.3,1238.8 L743.4,1254.5 L744.6,1237.3 L745.8,1255.4 L746.9,1241.6 L748.1,1256.1 L749.2,1236.9 L750.4,1261.5 L751.6,1240.5 L752.7,1233.0 L753.9,1262.9 L755.0,1240.8 L756.2,1255.1 L757.4,1227.5 L758.5,1250.9 L759.7,1233.6 L760.8,1255.2 L762.0,1234.6 L763.2,1248.4 L764.3,1238.8 L765.5,1259.2 L766.6,1232.9 L767.8,1248.7 L769.0,1246.8 L770.1,1252.5 L771.3,1238.8 L772.4,1234.8 L773.6,1251.2 L774.8,1229.1 L775.9,1250.6 L777.1,1233.6 L778.2,1235.7 L779.4,1248.9 L780.6,1238.5 L781.7,1233.2 L782.9,1238.9 L784.0,1223.9 L785.2,1246.6 L786.4,1228.9 L787.5,1250.4 L788.7,1224.2 L789.9,1227.0 L791.0,1239.5 L792.2,1229.7 L793.3,1247.7 L794.5,1230.4 L795.7,1256.9 L796.8,1231.3 L798.0,1229.9 L799.1,1215.0 L800.3,1208.9 L801.5,1217.3 L802.6,1227.2 L803.8,1245.0 L804.9,1251.6 L806.1,1234.6 L807.3,1244.3 L808.4,1229.3 L809.6,1247.1 L810.7,1226.6 L811.9,1249.6 L813.1,1229.0 L814.2,1225.5 L815.4,1254.6 L816.5,1231.9 L817.7,1250.5 L818.9,1227.4 L820.0,1250.0 L821.2,1224.0 L822.3,1230.8 L823.5,1254.0 L824.7,1255.6 L825.8,1255.8 L827.0,1245.9 L828.1,1252.9 L829.3,1258.2 L830.5,1325.7 L831.6,1358.2 L832.8,1405.8 L833.9,1386.7 L835.1,1404.3 L836.3,1388.9 L837.4,1409.3 L838.6,1385.6 L839.7,1402.9 L840.9,1383.1 L842.1,1389.5 L843.2,1405.5 L844.4,1406.3 L845.5,1392.3 L846.7,1385.7 L847.9,1414.1 L849.0,1391.3 L850.2,1416.4 L851.3,1419.4 L852.5,1405.3 L853.7,1415.2 L854.8,1398.0 L856.0,1410.8 L857.1,1400.5 L858.3,1411.7 L859.5,1398.8 L860.6,1424.9 L861.8,1408.5 L862.9,1420.4 L864.1,1399.0 L865.3,1416.2 L866.4,1398.9 L867.6,1404.0 L868.7,1394.4 L869.9,1388.7 L871.1,1399.5 L872.2,1408.0 L873.4,1429.6 L874.5,1435.3 L875.7,1408.7 L876.9,1435.8 L878.0,1414.9 L879.2,1435.1 L880.3,1441.0 L881.5,1422.3 L882.7,1421.9 L883.8,1437.3 L885.0,1421.5 L886.1,1433.7 L887.3,1420.3 L888.5,1444.7 L889.6,1426.1 L890.8,1440.2 L891.9,1445.7 L893.1,1427.5 L894.3,1439.0 L895.4,1429.6 L896.6,1448.6 L897.7,1435.7 L898.9,1417.7 L900.1,1423.8 L901.2,1440.7 L902.4,1424.5 L903.5,1445.1 L904.7,1451.5 L905.9,1436.5 L907.0,1445.8 L908.2,1453.3 L909.3,1436.9 L910.5,1452.8 L911.7,1428.6 L912.8,1451.6 L914.0,1459.4 L915.2,1474.2 L916.3,1463.6 L917.5,1456.5 L918.6,1451.0 L919.8,1442.0 L921.0,1461.1 L922.1,1448.0 L923.3,1468.2 L924.4,1455.6 L925.6,1470.3 L926.8,1454.3 L927.9,1471.2 L929.1,1454.2 L930.2,1466.4 L931.4,1456.1 L932.6,1472.7 L933.7,1449.5 L934.9,1463.5 L936.0,1463.5 L937.2,1474.9 L938.4,1477.3 L939.5,1472.8 L940.7,1468.5 L941.8,1474.4 L943.0,1450.4 L944.2,1468.3 L945.3,1446.1 L946.5,1472.0 L947.6,1450.5 L948.8,1420.6 L950.0,1383.4 L951.1,1317.4 L952.3,1299.9 L953.4,1308.4 L954.6,1287.5 L955.8,1303.8 L956.9,1279.0 L958.1,1297.4 L959.2,1292.0 L960.4,1282.1 L961.6,1280.3 L962.7,1300.0 L963.9,1278.3 L965.0,1271.2 L966.2,1282.4 L967.4,1269.4 L968.5,1274.0 L969.7,1260.9 L970.8,1279.0 L972.0,1260.5 L973.2,1272.1 L974.3,1276.5 L975.5,1256.8 L976.6,1271.1 L977.8,1253.0 L979.0,1270.8 L980.1,1255.1 L981.3,1271.8 L982.4,1244.3 L983.6,1248.1 L984.8,1251.0 L985.9,1249.8 L987.1,1265.4 L988.2,1246.3 L989.4,1274.6 L990.6,1257.2 L991.7,1274.2 L992.9,1254.6 L994.0,1260.4 L995.2,1253.5 L996.4,1245.7 L997.5,1240.2 L998.7,1246.9 L999.8,1252.8 L1001.0,1253.0 L1002.2,1271.1 L1003.3,1255.3 L1004.5,1259.9 L1005.6,1273.8 L1006.8,1278.7 L1008.0,1257.8 L1009.1,1278.4 L1010.3,1260.7 L1011.4,1258.0 L1012.6,1264.4 L1013.8,1250.0 L1014.9,1268.5 L1016.1,1253.5 L1017.2,1246.9 L1018.4,1241.8 L1019.6,1256.8 L1020.7,1239.6 L1021.9,1240.0 L1023.0,1259.3 L1024.2,1244.5 L1025.4,1237.3 L1026.5,1245.7 L1027.7,1265.6 L1028.8,1237.6 L1030.0,1259.0 L1031.2,1242.6 L1032.3,1258.5 L1033.5,1246.4 L1034.6,1257.3 L1035.8,1231.4 L1037.0,1247.2 L1038.1,1240.5 L1039.3,1229.8 L1040.5,1253.6 L1041.6,1247.1 L1042.8,1263.7 L1043.9,1240.8 L1045.1,1254.2 L1046.3,1240.7 L1047.4,1253.2 L1048.6,1249.8 L1049.7,1232.5 L1050.9,1251.4 L1052.1,1245.3 L1053.2,1264.1 L1054.4,1245.6 L1055.5,1267.2 L1056.7,1243.5 L1057.9,1241.6 L1059.0,1261.0 L1060.2,1273.5 L1061.3,1281.2 L1062.5,1272.6 L1063.7,1259.8 L1064.8,1244.1 L1066.0,1259.1 L1067.1,1239.4 L1068.3,1244.2 L1069.5,1240.0 L1070.6,1230.0 L1071.8,1240.3 L1072.9,1243.7 L1074.1,1285.0 L1075.3,1321.0 L1076.4,1394.2 L1077.6,1402.2 L1078.7,1407.8 L1079.9,1390.7 L1081.1,1400.4 L1082.2,1390.6 L1083.4,1402.2 L1084.5,1403.1 L1085.7,1412.4 L1086.9,1391.1 L1088.0,1378.8 L1089.2,1370.4 L1090.3,1381.9 L1091.5,1394.1 L1092.7,1414.7 L1093.8,1395.3 L1095.0,1418.3 L1096.1,1405.3 L1097.3,1395.7 L1098.5,1420.3 L1099.6,1400.0 L1100.8,1420.2 L1101.9,1400.5 L1103.1,1430.7 L1104.3,1413.0 L1105.4,1431.1 L1106.6,1442.8 L1107.7,1427.8 L1108.9,1444.9 L1110.1,1431.9 L1111.2,1443.4 L1112.4,1453.4 L1113.5,1463.6 L1114.7,1452.5 L1115.9,1438.3 L1117.0,1435.3 L1118.2,1414.4 L1119.3,1431.8 L1120.5,1414.1 L1121.7,1429.2 L1122.8,1409.0 L1124.0,1434.9 L1125.1,1412.9 L1126.3,1424.3 L1127.5,1411.4 L1128.6,1426.4 L1129.8,1413.7 L1130.9,1432.5 L1132.1,1421.4 L1133.3,1430.2 L1134.4,1414.5 L1135.6,1432.0 L1136.7,1423.0 L1137.9,1430.2 L1139.1,1443.8 L1140.2,1427.7 L1141.4,1443.8 L1142.5,1424.1 L1143.7,1441.6 L1144.9,1432.2 L1146.0,1440.6 L1147.2,1424.1 L1148.3,1447.5 L1149.5,1424.7 L1150.7,1447.2 L1151.8,1429.6 L1153.0,1453.3 L1154.1,1439.5 L1155.3,1454.3 L1156.5,1432.6 L1157.6,1434.4 L1158.8,1454.3 L1159.9,1446.7 L1161.1,1438.6 L1162.3,1454.6 L1163.4,1445.5 L1164.6,1458.0 L1165.8,1436.8 L1166.9,1441.9 L1168.1,1457.9 L1169.2,1441.9 L1170.4,1436.1 L1171.6,1463.9 L1172.7,1441.4 L1173.9,1454.6 L1175.0,1435.3 L1176.2,1454.0 L1177.4,1455.9 L1178.5,1448.6 L1179.7,1463.8 L1180.8,1448.9 L1182.0,1469.5 L1183.2,1453.2 L1184.3,1465.7 L1185.5,1460.5 L1186.6,1464.6 L1187.8,1451.1 L1189.0,1465.5 L1190.1,1456.9 L1191.3,1451.8 L1192.4,1444.7 L1193.6,1367.2 L1194.8,1316.4 L1195.9,1310.0 L1197.1,1300.5 L1198.2,1307.9 L1199.4,1297.2 L1200.6,1303.8 L1201.7,1305.3 L1202.9,1281.4 L1204.0,1299.8 L1205.2,1285.2 L1206.4,1270.2 L1207.5,1267.8 L1208.7,1292.2 L1209.8,1272.5 L1211.0,1300.9 L1212.2,1282.5 L1213.3,1290.8 L1214.5,1276.5 L1215.6,1291.1 L1216.8,1289.8 L1218.0,1274.6 L1219.1,1296.8 L1220.3,1271.3 L1221.4,1293.7 L1222.6,1278.0 L1223.8,1284.4 L1224.9,1275.4 L1226.1,1288.7 L1227.2,1266.9 L1228.4,1289.9 L1229.6,1266.7 L1230.7,1290.3 L1231.9,1266.3 L1233.0,1284.6 L1234.2,1265.6 L1235.4,1258.5 L1236.5,1279.2 L1237.7,1284.3 L1238.8,1279.4 L1240.0,1266.8 L1241.2,1277.2 L1242.3,1266.5 L1243.5,1263.4 L1244.6,1275.0 L1245.8,1265.5 L1247.0,1258.5 L1248.1,1272.6 L1249.3,1256.8 L1250.4,1274.5 L1251.6,1257.4 L1252.8,1267.9 L1253.9,1243.7 L1255.1,1264.4 L1256.2,1252.3 L1257.4,1262.6 L1258.6,1270.3 L1259.7,1251.3 L1260.9,1270.4 L1262.0,1257.0 L1263.2,1255.7 L1264.4,1270.0 L1265.5,1243.1 L1266.7,1270.0 L1267.8,1266.5 L1269.0,1270.8 L1270.2,1257.4 L1271.3,1266.2 L1272.5,1255.0 L1273.6,1272.7 L1274.8,1252.9 L1276.0,1265.7 L1277.1,1253.7 L1278.3,1267.5 L1279.4,1254.5 L1280.6,1265.1 L1281.8,1256.4 L1282.9,1272.4 L1284.1,1248.9 L1285.3,1272.8 L1286.4,1273.3 L1287.6,1256.7 L1288.7,1273.3 L1289.9,1249.4 L1291.1,1268.6 L1292.2,1270.8 L1293.4,1255.5 L1294.5,1263.9 L1295.7,1250.5 L1296.9,1269.8 L1298.0,1251.2 L1299.2,1261.4 L1300.3,1243.4 L1301.5,1265.6 L1302.7,1250.2 L1303.8,1259.1 L1305.0,1254.1 L1306.1,1242.6 L1307.3,1236.4 L1308.5,1242.8 L1309.6,1252.6 L1310.8,1262.8 L1311.9,1256.5 L1313.1,1268.8 L1314.3,1253.2 L1315.4,1267.6 L1316.6,1251.6 L1317.7,1274.8 L1318.9,1273.9 L1320.1,1313.9 L1321.2,1378.4 L1322.4,1389.2 L1323.5,1404.6 L1324.7,1400.8 L1325.9,1395.3 L1327.0,1400.4 L1328.2,1418.4 L1329.3,1394.2 L1330.5,1412.4 L1331.7,1410.9 L1332.8,1396.7 L1334.0,1413.8 L1335.1,1401.2 L1336.3,1429.9 L1337.5,1426.2 L1338.6,1400.2 L1339.8,1414.7 L1340.9,1407.7 L1342.1,1421.6 L1343.3,1410.5 L1344.4,1400.7 L1345.6,1423.8 L1346.7,1404.6 L1347.9,1422.0 L1349.1,1411.7 L1350.2,1423.9 L1351.4,1411.7 L1352.5,1423.7 L1353.7,1433.8 L1354.9,1410.7 L1356.0,1432.2 L1357.2,1415.3 L1358.3,1438.1 L1359.5,1454.6 L1360.7,1466.6 L1361.8,1453.8 L1363.0,1441.0 L1364.1,1424.1 L1365.3,1411.0 L1366.5,1398.5 L1367.6,1414.3 L1368.8,1428.3 L1369.9,1441.2 L1371.1,1432.8 L1372.3,1453.5 L1373.4,1438.4 L1374.6,1453.9 L1375.7,1433.5 L1376.9,1448.9 L1378.1,1432.2 L1379.2,1440.1 L1380.4,1453.4 L1381.5,1437.4 L1382.7,1455.0 L1383.9,1460.2 L1385.0,1446.3 L1386.2,1466.1 L1387.3,1450.7 L1388.5,1464.1 L1389.7,1448.6 L1390.8,1466.4 L1392.0,1465.7 L1393.1,1446.7 L1394.3,1466.2 L1395.5,1445.6 L1396.6,1472.3 L1397.8,1444.8 L1398.9,1465.5 L1400.1,1458.9 L1401.3,1438.6 L1402.4,1452.0 L1403.6,1437.4 L1404.7,1446.4 L1405.9,1438.7 L1407.1,1433.7 L1408.2,1435.7 L1409.4,1448.3 L1410.6,1470.5 L1411.7,1462.6 L1412.9,1473.0 L1414.0,1470.3 L1415.2,1453.2 L1416.4,1469.7 L1417.5,1456.3 L1418.7,1468.6 L1419.8,1474.4 L1421.0,1451.5 L1422.2,1474.0 L1423.3,1459.3 L1424.5,1479.6 L1425.6,1466.3 L1426.8,1480.9 L1428.0,1476.7 L1429.1,1459.4 L1430.3,1481.4 L1431.4,1464.4 L1432.6,1479.6 L1433.8,1476.7 L1434.9,1464.2 L1436.1,1468.4 L1437.2,1484.0 L1438.4,1405.0 L1439.6,1371.4 L1440.7,1295.6 L1441.9,1307.8 L1443.0,1311.1 L1444.2,1287.6 L1445.4,1314.6 L1446.5,1293.0 L1447.7,1302.5 L1448.8,1289.1 L1450.0,1306.1 L1451.2,1294.0 L1452.3,1309.5 L1453.5,1300.8 L1454.6,1310.4 L1455.8,1290.5 L1457.0,1312.5 L1458.1,1291.1 L1459.3,1303.5 L1460.4,1291.8 L1461.6,1312.3 L1462.8,1294.1 L1463.9,1306.6 L1465.1,1283.8 L1466.2,1295.1 L1467.4,1280.6 L1468.6,1306.0 L1469.7,1294.9 L1470.9,1278.8 L1472.0,1289.6 L1473.2,1278.7 L1474.4,1285.4 L1475.5,1269.2 L1476.7,1295.6 L1477.8,1269.7 L1479.0,1284.1 L1480.2,1268.0 L1481.3,1292.7 L1482.5,1270.7 L1483.6,1288.6 L1484.8,1262.8 L1486.0,1284.0 L1487.1,1293.4 L1488.3,1275.9 L1489.4,1290.3 L1490.6,1260.9 L1491.8,1261.0 L1492.9,1267.9 L1494.1,1286.8 L1495.2,1269.3 L1496.4,1288.8 L1497.6,1279.7 L1498.7,1285.5 L1499.9,1273.5 L1501.0,1285.5 L1502.2,1275.0 L1503.4,1272.9 L1504.5,1286.1 L1505.7,1270.7 L1506.8,1286.4 L1508.0,1285.5 L1509.2,1284.3 L1510.3,1272.6 L1511.5,1287.9 L1512.6,1268.0 L1513.8,1284.4 L1515.0,1265.2 L1516.1,1278.1 L1517.3,1270.3 L1518.4,1279.0 L1519.6,1261.0 L1520.8,1285.2 L1521.9,1271.5 L1523.1,1291.9 L1524.2,1279.0 L1525.4,1293.4 L1526.6,1270.4 L1527.7,1281.1 L1528.9,1265.3 L1530.0,1278.7 L1531.2,1272.4 L1532.4,1287.4 L1533.5,1265.0 L1534.7,1271.3 L1535.9,1261.2 L1537.0,1274.3 L1538.2,1261.1 L1539.3,1278.2 L1540.5,1259.4 L1541.7,1278.6 L1542.8,1268.4 L1544.0,1280.9 L1545.1,1258.5 L1546.3,1274.9 L1547.5,1258.5 L1548.6,1248.8 L1549.8,1246.6 L1550.9,1256.4 L1552.1,1263.5 L1553.3,1272.2 L1554.4,1272.7 L1555.6,1285.0 L1556.7,1264.3 L1557.9,1288.0 L1559.1,1275.8 L1560.2,1290.5 L1561.4,1301.0 L1562.5,1361.2 L1563.7,1386.0 L1564.9,1417.9 L1566.0,1404.3 L1567.2,1420.0 L1568.3,1400.6 L1569.5,1420.6 L1570.7,1415.8 L1571.8,1432.2 L1573.0,1413.5 L1574.1,1429.9 L1575.3,1414.1 L1576.5,1418.2 L1577.6,1427.4 L1578.8,1413.3 L1579.9,1435.8 L1581.1,1416.6 L1582.3,1433.4 L1583.4,1438.4 L1584.6,1422.6 L1585.7,1442.0 L1586.9,1436.0 L1588.1,1427.3 L1589.2,1419.0 L1590.4,1445.4 L1591.5,1423.4 L1592.7,1444.2 L1593.9,1418.0 L1595.0,1439.4 L1596.2,1431.0 L1597.3,1454.4 L1598.5,1432.8 L1599.7,1444.7 L1600.8,1455.8 L1602.0,1432.4 L1603.1,1444.7 L1604.3,1431.1 L1605.5,1454.7 L1606.6,1460.8 L1607.8,1449.6 L1608.9,1455.2 L1610.1,1441.2 L1611.3,1436.0 L1612.4,1431.8 L1613.6,1437.1 L1614.7,1443.4 L1615.9,1447.4 L1617.1,1464.3 L1618.2,1449.1 L1619.4,1472.4 L1620.5,1449.3 L1621.7,1469.8 L1622.9,1444.2 L1624.0,1468.0 L1625.2,1475.4 L1626.3,1487.3 L1627.5,1476.1 L1628.7,1469.6 L1629.8,1448.1 L1631.0,1473.8 L1632.1,1447.7 L1633.3,1462.6 L1634.5,1449.0 L1635.6,1467.0 L1636.8,1451.9 L1637.9,1468.1 L1639.1,1441.0 L1640.3,1454.9 L1641.4,1434.8 L1642.6,1463.3 L1643.7,1439.4 L1644.9,1441.7 L1646.1,1460.9 L1647.2,1439.3 L1648.4,1466.5 L1649.5,1463.6 L1650.7,1444.9 L1651.9,1464.6 L1653.0,1438.0 L1654.2,1455.3 L1655.4,1442.4 L1656.5,1454.1 L1657.7,1441.8 L1658.8,1466.4 L1660.0,1455.0 L1661.2,1473.4 L1662.3,1456.9 L1663.5,1466.4 L1664.6,1440.9 L1665.8,1466.1 L1667.0,1457.4 L1668.1,1470.5 L1669.3,1453.7 L1670.4,1453.5 L1671.6,1471.3 L1672.8,1454.4 L1673.9,1472.5 L1675.1,1456.8 L1676.2,1475.2 L1677.4,1459.1 L1678.6,1474.4 L1679.7,1452.2 L1680.9,1473.6 L1682.0,1432.3 L1683.2,1392.8 L1684.4,1318.6 L1685.5,1309.0 L1686.7,1293.1 L1687.8,1304.8 L1689.0,1286.9 L1690.2,1308.7 L1691.3,1291.7 L1692.5,1310.3 L1693.6,1291.2 L1694.8,1306.6 L1696.0,1291.5 L1697.1,1302.7 L1698.3,1284.9 L1699.4,1296.6 L1700.6,1304.9 L1701.8,1285.3 L1702.9,1295.8 L1704.1,1274.8 L1705.2,1292.8 L1706.4,1273.4 L1707.6,1291.7 L1708.7,1276.3 L1709.9,1272.5 L1711.0,1263.5 L1712.2,1251.2 L1713.4,1258.5 L1714.5,1272.6 L1715.7,1269.7 L1716.8,1282.3 L1718.0,1274.3 L1719.2,1297.0 L1720.3,1278.6 L1721.5,1294.3 L1722.6,1273.7 L1723.8,1286.4 L1725.0,1276.5 L1726.1,1294.3 L1727.3,1284.0 L1728.4,1293.5 L1729.6,1279.0 L1730.8,1300.3 L1731.9,1283.6 L1733.1,1300.8 L1734.2,1284.2 L1735.4,1294.1 L1736.6,1281.5 L1737.7,1297.2 L1738.9,1278.0 L1740.0,1301.9 L1741.2,1283.6 L1742.4,1276.8 L1743.5,1298.4 L1744.7,1280.0 L1745.8,1275.5 L1747.0,1292.4 L1748.2,1280.4 L1749.3,1290.1 L1750.5,1265.0 L1751.6,1285.6 L1752.8,1274.5 L1754.0,1284.8 L1755.1,1264.7 L1756.3,1263.3 L1757.4,1283.0 L1758.6,1283.1 L1759.8,1267.6 L1760.9,1287.1 L1762.1,1264.5 L1763.2,1279.7 L1764.4,1259.6 L1765.6,1282.8 L1766.7,1267.7 L1767.9,1280.4 L1769.0,1262.5 L1770.2,1285.2 L1771.4,1279.4 L1772.5,1262.4 L1773.7,1280.4 L1774.8,1270.2 L1776.0,1265.6 L1777.2,1282.5 L1778.3,1260.1 L1779.5,1262.9 L1780.7,1281.8 L1781.8,1259.1 L1783.0,1274.4 L1784.1,1264.3 L1785.3,1278.1 L1786.5,1262.2 L1787.6,1285.2 L1788.8,1266.6 L1789.9,1280.7 L1791.1,1259.1 L1792.3,1275.6 L1793.4,1266.2 L1794.6,1285.1 L1795.7,1270.4 L1796.9,1282.8 L1798.1,1279.7 L1799.2,1262.3 L1800.4,1267.4 L1801.5,1254.1 L1802.7,1250.8 L1803.9,1255.6 L1805.0,1287.4 L1806.2,1351.8 L1807.3,1378.0 L1808.5,1422.1 L1809.7,1406.0 L1810.8,1422.0 L1812.0,1411.0 L1813.1,1440.3 L1814.3,1442.1 L1815.5,1426.6 L1816.6,1442.2 L1817.8,1433.0 L1818.9,1433.3 L1820.1,1449.1 L1821.3,1438.9 L1822.4,1449.9 L1823.6,1443.1 L1824.7,1453.2 L1825.9,1463.3 L1827.1,1478.4 L1828.2,1467.2 L1829.4,1452.1 L1830.5,1434.3 L1831.7,1440.3 L1832.9,1451.2 L1834.0,1436.2 L1835.2,1453.0 L1836.3,1435.4 L1837.5,1433.0 L1838.7,1428.0 L1839.8,1419.4 L1841.0,1425.8 L1842.1,1438.5 L1843.3,1426.0 L1844.5,1449.6 L1845.6,1434.4 L1846.8,1430.8 L1847.9,1428.4 L1849.1,1455.6 L1850.3,1433.3 L1851.4,1452.0 L1852.6,1435.4 L1853.7,1450.6 L1854.9,1432.3 L1856.1,1438.9 L1857.2,1449.4 L1858.4,1438.0 L1859.5,1453.0 L1860.7,1456.7 L1861.9,1440.8 L1863.0,1462.5 L1864.2,1440.1 L1865.3,1463.2 L1866.5,1440.6 L1867.7,1441.7 L1868.8,1433.0 L1870.0,1424.9 L1871.1,1435.4 L1872.3,1444.5 L1873.5,1444.1 L1874.6,1469.8 L1875.8,1447.1 L1876.9,1469.8 L1878.1,1474.6 L1879.3,1490.6 L1880.4,1507.7 L1881.6,1489.5 L1882.7,1478.0 L1883.9,1464.2 L1885.1,1448.7 L1886.2,1469.6 L1887.4,1454.9 L1888.5,1470.2 L1889.7,1451.3 L1890.9,1474.0 L1892.0,1460.5 L1893.2,1468.5 L1894.3,1450.1 L1895.5,1472.2 L1896.7,1458.8 L1897.8,1483.3 L1899.0,1462.9 L1900.1,1470.2 L1901.3,1463.0 L1902.5,1478.5 L1903.6,1469.0 L1904.8,1484.7 L1906.0,1485.1 L1907.1,1470.3 L1908.3,1484.7 L1909.4,1471.4 L1910.6,1494.8 L1911.8,1471.6 L1912.9,1489.9 L1914.1,1472.3 L1915.2,1491.4 L1916.4,1474.8 L1917.6,1491.2 L1918.7,1470.1 L1919.9,1484.4 L1921.0,1463.0 L1922.2,1487.9 L1923.4,1487.7 L1924.5,1469.5 L1925.7,1467.7 L1926.8,1415.5 L1928.0,1356.2 L1929.2,1353.1 L1930.3,1333.5 L1931.5,1349.0 L1932.6,1326.4 L1933.8,1339.1 L1935.0,1325.5 L1936.1,1316.1 L1937.3,1302.1 L1938.4,1313.6 L1939.6,1321.7 L1940.8,1327.5 L1941.9,1320.6 L1943.1,1344.3 L1944.2,1316.5 L1945.4,1324.0 L1946.6,1318.8 L1947.7,1303.8 L1948.9,1331.5 L1950.0,1307.7 L1951.2,1315.6 L1952.4,1303.0 L1953.5,1317.0 L1954.7,1302.0 L1955.8,1323.8 L1957.0,1294.7 L1958.2,1306.2 L1959.3,1291.3 L1960.5,1306.3 L1961.6,1299.5 L1962.8,1320.4 L1964.0,1299.9 L1965.1,1306.6 L1966.3,1282.9 L1967.4,1307.0 L1968.6,1285.1 L1969.8,1287.3 L1970.9,1304.5 L1972.1,1285.5 L1973.2,1295.0 L1974.4,1286.9 L1975.6,1300.0 L1976.7,1278.3 L1977.9,1299.8 L1979.0,1276.1 L1980.2,1294.5 L1981.4,1283.9 L1982.5,1294.5 L1983.7,1267.6 L1984.8,1270.3 L1986.0,1260.4 L1987.2,1251.4 L1988.3,1262.4 L1989.5,1272.1 L1990.6,1292.1 L1991.8,1280.2 L1993.0,1294.3 L1994.1,1286.9 L1995.3,1291.4 L1996.4,1280.0 L1997.6,1298.9 L1998.8,1275.9 L1999.9,1299.8 L2001.1,1280.0 L2002.2,1298.5 L2003.4,1283.8 L2004.6,1296.8 L2005.7,1281.7 L2006.9,1289.1 L2008.0,1271.7 L2009.2,1293.6 L2010.4,1277.5 L2011.5,1278.0 L2012.7,1276.6 L2013.8,1264.7 L2015.0,1251.4 L2016.2,1259.5 L2017.3,1273.0 L2018.5,1287.6 L2019.6,1288.2 L2020.8,1274.5 L2022.0,1287.5 L2023.1,1274.1 L2024.3,1299.7 L2025.4,1276.9 L2026.6,1294.9 L2027.8,1282.0 L2028.9,1299.5 L2030.1,1281.7 L2031.3,1295.5 L2032.4,1282.6 L2033.6,1299.0 L2034.7,1269.2 L2035.9,1288.9 L2037.1,1293.3 L2038.2,1289.6 L2039.4,1273.8 L2040.5,1293.7 L2041.7,1294.9 L2042.9,1273.8 L2044.0,1295.5 L2045.2,1275.7 L2046.3,1287.3 L2047.5,1267.2 L2048.7,1283.1 L2049.8,1289.8 L2051.0,1357.8 L2052.1,1386.7 L2053.3,1424.5 L2054.5,1412.0 L2055.6,1434.0 L2056.8,1421.6 L2057.9,1438.3 L2059.1,1431.6 L2060.3,1425.1 L2061.4,1433.2 L2062.6,1419.4 L2063.7,1443.4 L2064.9,1423.2 L2066.1,1439.1 L2067.2,1419.6 L2068.4,1425.9 L2069.5,1417.2 L2070.7,1408.6 L2071.9,1420.5 L2073.0,1430.8 L2074.2,1436.5 L2075.3,1453.6 L2076.5,1452.3 L2077.7,1434.9 L2078.8,1451.6 L2080.0,1443.0 L2081.1,1456.7 L2082.3,1448.0 L2083.5,1448.1 L2084.6,1471.0 L2085.8,1467.4 L2086.9,1447.8 L2088.1,1467.6"/>
</g>
<g stroke="#000" stroke-width="6" fill="none"><line x1="2088.1" y1="50.6" x2="2088.1" y2="1641.5"/></g>
<g font-size="61.5"><text x="229.7" y="1705.2" text-anchor="middle">220</text><text x="462.0" y="1705.2" text-anchor="middle">240</text><text x="694.2" y="1705.2" text-anchor="middle">260</text><text x="926.5" y="1705.2" text-anchor="middle">280</text><text x="1158.8" y="1705.2" text-anchor="middle">300</text><text x="1391.0" y="1705.2" text-anchor="middle">320</text><text x="1623.3" y="1705.2" text-anchor="middle">340</text><text x="1855.5" y="1705.2" text-anchor="middle">360</text><text x="2087.8" y="1705.2" text-anchor="middle">380</text></g>
<g stroke-width="12" stroke-linecap="round">
<line x1="1638" y1="163" x2="1804" y2="163" stroke="#008080"/>
<line x1="1639" y1="603.5" x2="1806" y2="603.5" stroke="#0000ff"/>
<line x1="1636" y1="1182" x2="1803" y2="1182" stroke="#ff0000"/>
</g>
<g font-size="74">
<text x="1821.7" y="186" letter-spacing="1.85">RT-800</text>
<text x="1824" y="626" letter-spacing="2">RT-600</text>
<text x="1819" y="1204.5" letter-spacing="1.2">CT-600</text>
</g>
<text x="1160.5" y="1835" font-size="84.4" font-weight="bold" text-anchor="middle">Time (s)</text>
<text transform="translate(114,896.2) rotate(-90)" font-size="88.5" letter-spacing="-0.41" font-weight="bold" text-anchor="middle">Photocurrent density</text>
<g>
<line x1="263" y1="1432" x2="263" y2="1556" stroke="#000" stroke-width="8.4"/>
<path d="M263 1402.8 L281 1437.4 L245 1437.4 Z" fill="#000"/>
<path d="M263 1584.6 L281 1551 L245 1551 Z" fill="#000"/>
</g>
<text x="287.5" y="1519" font-size="64.5" letter-spacing="-0.7">10 nA/cm<tspan font-size="43" dy="-21.4" dx="-1.2">2</tspan></text>
</g>
</svg>
</body></html>
